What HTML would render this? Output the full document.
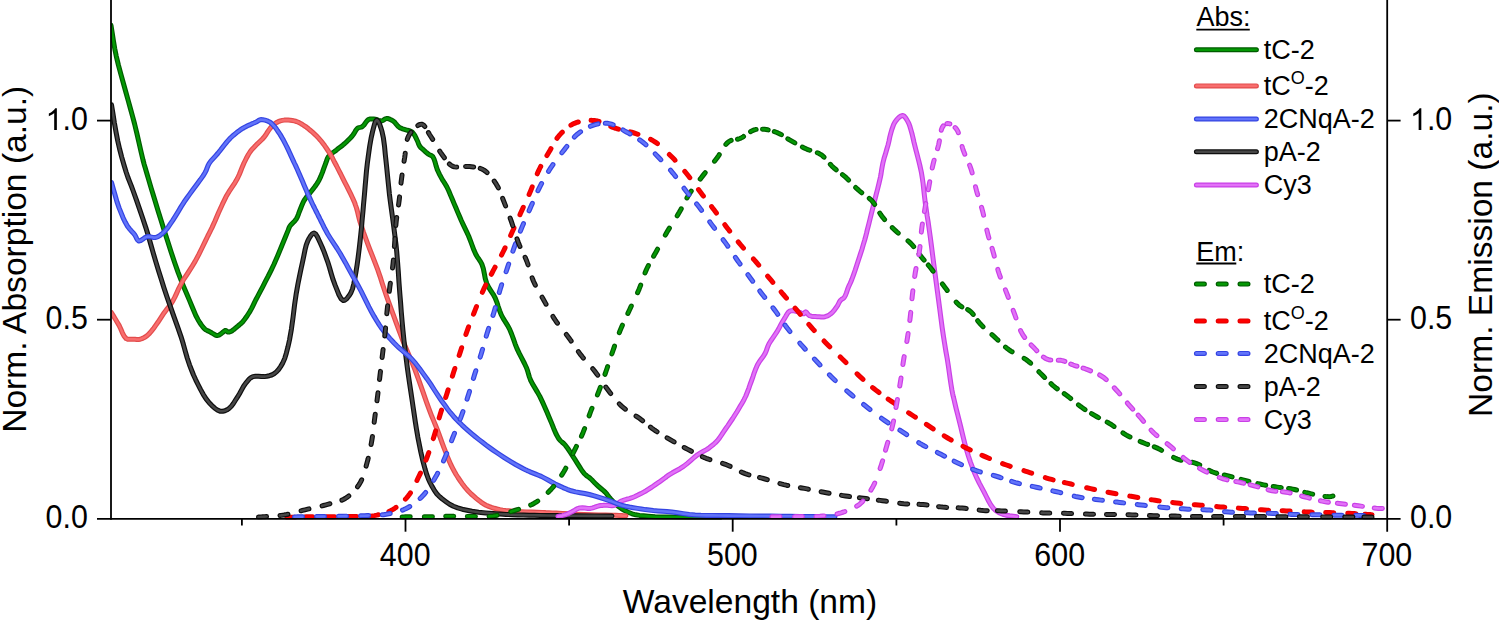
<!DOCTYPE html>
<html><head><meta charset="utf-8"><style>
html,body{margin:0;padding:0;background:#fff;overflow:hidden;}
svg{display:block;}
text{font-family:"Liberation Sans",sans-serif;fill:#000;}
</style></head><body>
<svg width="1499" height="621" viewBox="0 0 1499 621">
<rect width="1499" height="621" fill="#fff"/>
<defs><clipPath id="pc"><rect x="111" y="0" width="1276.2" height="519.5"/></clipPath></defs>
<g fill="none" stroke-linejoin="round" stroke-linecap="round" clip-path="url(#pc)">
<polyline points="111.0,25.3 112.2,33.0 113.4,40.7 114.7,48.4 116.3,56.3 118.5,65.4 121.0,74.7 123.6,84.0 126.1,93.0 128.3,100.9 130.4,108.5 132.5,116.1 134.6,124.0 136.8,133.2 139.0,142.8 141.1,152.0 143.0,160.0 144.1,164.2 145.2,167.8 146.2,171.3 147.3,175.0 148.6,179.4 149.9,183.9 151.3,188.6 152.9,193.8 155.4,202.0 158.2,211.2 161.2,220.8 164.2,230.4 167.6,241.0 171.1,252.0 174.7,262.7 178.2,272.7 181.1,280.2 183.9,287.3 186.8,294.0 189.5,300.4 191.7,305.7 193.8,310.8 195.8,315.5 198.0,319.7 199.7,322.5 201.4,325.0 203.1,327.2 204.8,329.0 206.0,329.9 207.3,330.6 208.5,331.1 209.7,331.7 210.7,332.3 211.6,332.8 212.6,333.4 213.5,333.9 214.3,334.4 215.1,334.9 215.9,335.3 216.7,335.5 217.4,335.5 218.0,335.4 218.7,335.2 219.3,334.9 220.1,334.4 220.9,333.9 221.7,333.2 222.5,332.6 223.2,332.0 224.0,331.2 224.7,330.7 225.4,330.4 226.1,330.6 226.8,331.2 227.5,331.8 228.3,332.1 229.2,332.0 230.2,331.7 231.3,331.2 232.2,330.7 233.0,330.1 233.8,329.5 234.6,328.8 235.4,328.1 236.2,327.5 237.0,326.8 237.8,326.2 238.6,325.5 239.6,324.6 240.7,323.7 241.9,322.7 243.0,321.5 244.7,319.3 246.5,316.8 248.3,314.0 250.0,311.3 251.5,308.6 252.9,305.8 254.3,302.9 255.7,300.0 257.4,296.9 259.1,293.7 260.8,290.4 262.7,286.8 265.3,281.7 268.2,276.2 271.1,270.3 274.0,264.2 277.8,255.5 281.8,245.8 285.5,236.8 288.1,230.4 288.6,229.0 289.0,228.0 289.4,227.0 290.0,226.0 291.3,224.4 293.0,222.7 294.8,220.9 296.3,219.0 297.4,216.9 298.3,214.6 299.1,212.3 300.0,210.0 301.0,207.5 302.0,204.9 303.1,202.4 304.4,200.0 305.9,197.9 307.5,195.9 309.2,193.9 310.9,191.8 312.9,189.2 315.0,186.5 317.0,183.6 318.9,180.5 320.7,176.6 322.4,172.3 323.9,168.1 325.3,164.4 326.1,162.2 326.8,160.1 327.5,158.2 328.6,156.4 330.3,154.6 332.3,153.0 334.5,151.5 336.6,149.9 338.6,148.3 340.7,146.8 342.7,145.2 344.7,143.5 346.8,141.6 348.9,139.5 350.9,137.5 352.7,135.4 354.0,133.5 355.2,131.4 356.3,129.6 357.6,128.2 358.7,127.6 360.0,127.4 361.2,127.1 362.4,126.6 364.0,125.0 365.5,122.8 367.1,120.7 368.8,119.3 370.3,118.9 372.0,118.9 373.7,119.1 375.3,119.3 376.9,119.7 378.6,120.3 380.2,120.8 381.7,120.9 382.9,120.5 384.1,119.7 385.3,118.9 386.5,118.5 388.1,118.6 389.7,119.2 391.4,120.0 393.0,120.9 394.7,122.3 396.2,124.2 397.7,126.0 399.4,127.4 401.0,128.2 402.6,128.8 404.3,129.3 405.9,129.8 407.6,130.3 409.2,130.7 410.9,131.3 412.3,132.2 413.7,133.8 415.0,135.9 416.1,138.2 417.1,140.3 417.9,142.0 418.5,143.7 419.2,145.3 420.0,146.7 420.7,147.5 421.5,148.2 422.3,148.8 423.1,149.5 424.3,150.6 425.6,151.8 427.0,153.0 428.3,154.1 429.5,154.7 430.6,155.2 431.8,155.8 432.8,156.7 434.1,159.2 435.2,162.6 436.2,166.3 437.3,169.6 438.4,172.0 439.5,174.3 440.6,176.4 441.8,178.6 443.0,180.7 444.3,182.6 445.6,184.7 446.9,187.0 448.7,190.8 450.5,195.1 452.4,199.5 454.2,203.9 456.0,208.1 457.8,212.4 459.6,216.6 461.4,220.8 463.2,224.6 465.0,228.4 466.8,232.1 468.6,236.0 470.4,240.6 472.2,245.5 474.0,250.3 475.9,254.5 477.4,257.1 479.0,259.3 480.5,261.6 481.9,264.2 483.3,268.6 484.3,273.6 485.3,278.8 486.8,283.5 488.7,287.3 490.9,290.8 493.2,294.3 495.2,298.0 496.8,302.1 498.2,306.5 499.7,310.8 501.3,314.9 503.3,318.6 505.5,322.1 507.7,325.6 509.7,329.4 511.6,334.0 513.4,338.9 515.1,343.8 517.0,348.7 519.4,353.7 522.0,358.6 524.5,363.5 526.6,368.0 527.7,371.1 528.5,374.1 529.4,377.0 530.5,380.0 532.5,383.9 534.9,387.9 537.4,392.1 539.8,396.4 542.2,401.4 544.6,406.7 546.9,412.1 549.2,417.4 551.5,422.9 553.8,428.7 556.1,434.0 558.5,438.4 560.2,440.5 561.9,442.0 563.7,443.5 565.5,445.4 567.8,448.5 570.2,452.1 572.6,455.8 574.9,459.4 577.2,463.1 579.6,466.9 581.9,470.5 584.2,473.5 585.8,475.0 587.3,476.2 588.9,477.3 590.4,478.5 592.0,480.0 593.5,481.6 595.1,483.3 596.8,484.9 598.9,486.8 601.2,488.7 603.5,490.6 605.4,492.4 606.6,493.7 607.5,495.0 608.5,496.3 609.6,497.7 611.4,499.8 613.5,502.0 615.7,504.2 618.2,506.3 621.3,508.5 624.7,510.5 628.3,512.3 632.0,513.8 635.7,514.8 639.5,515.4 643.6,515.8 648.0,516.2 655.1,516.7 663.1,517.0 671.5,517.1 680.0,517.3 689.7,517.5 699.7,517.6 709.9,517.7 720.0,517.8" stroke="#005C00" stroke-width="5.0"/><polyline points="111.0,25.3 112.2,33.0 113.4,40.7 114.7,48.4 116.3,56.3 118.5,65.4 121.0,74.7 123.6,84.0 126.1,93.0 128.3,100.9 130.4,108.5 132.5,116.1 134.6,124.0 136.8,133.2 139.0,142.8 141.1,152.0 143.0,160.0 144.1,164.2 145.2,167.8 146.2,171.3 147.3,175.0 148.6,179.4 149.9,183.9 151.3,188.6 152.9,193.8 155.4,202.0 158.2,211.2 161.2,220.8 164.2,230.4 167.6,241.0 171.1,252.0 174.7,262.7 178.2,272.7 181.1,280.2 183.9,287.3 186.8,294.0 189.5,300.4 191.7,305.7 193.8,310.8 195.8,315.5 198.0,319.7 199.7,322.5 201.4,325.0 203.1,327.2 204.8,329.0 206.0,329.9 207.3,330.6 208.5,331.1 209.7,331.7 210.7,332.3 211.6,332.8 212.6,333.4 213.5,333.9 214.3,334.4 215.1,334.9 215.9,335.3 216.7,335.5 217.4,335.5 218.0,335.4 218.7,335.2 219.3,334.9 220.1,334.4 220.9,333.9 221.7,333.2 222.5,332.6 223.2,332.0 224.0,331.2 224.7,330.7 225.4,330.4 226.1,330.6 226.8,331.2 227.5,331.8 228.3,332.1 229.2,332.0 230.2,331.7 231.3,331.2 232.2,330.7 233.0,330.1 233.8,329.5 234.6,328.8 235.4,328.1 236.2,327.5 237.0,326.8 237.8,326.2 238.6,325.5 239.6,324.6 240.7,323.7 241.9,322.7 243.0,321.5 244.7,319.3 246.5,316.8 248.3,314.0 250.0,311.3 251.5,308.6 252.9,305.8 254.3,302.9 255.7,300.0 257.4,296.9 259.1,293.7 260.8,290.4 262.7,286.8 265.3,281.7 268.2,276.2 271.1,270.3 274.0,264.2 277.8,255.5 281.8,245.8 285.5,236.8 288.1,230.4 288.6,229.0 289.0,228.0 289.4,227.0 290.0,226.0 291.3,224.4 293.0,222.7 294.8,220.9 296.3,219.0 297.4,216.9 298.3,214.6 299.1,212.3 300.0,210.0 301.0,207.5 302.0,204.9 303.1,202.4 304.4,200.0 305.9,197.9 307.5,195.9 309.2,193.9 310.9,191.8 312.9,189.2 315.0,186.5 317.0,183.6 318.9,180.5 320.7,176.6 322.4,172.3 323.9,168.1 325.3,164.4 326.1,162.2 326.8,160.1 327.5,158.2 328.6,156.4 330.3,154.6 332.3,153.0 334.5,151.5 336.6,149.9 338.6,148.3 340.7,146.8 342.7,145.2 344.7,143.5 346.8,141.6 348.9,139.5 350.9,137.5 352.7,135.4 354.0,133.5 355.2,131.4 356.3,129.6 357.6,128.2 358.7,127.6 360.0,127.4 361.2,127.1 362.4,126.6 364.0,125.0 365.5,122.8 367.1,120.7 368.8,119.3 370.3,118.9 372.0,118.9 373.7,119.1 375.3,119.3 376.9,119.7 378.6,120.3 380.2,120.8 381.7,120.9 382.9,120.5 384.1,119.7 385.3,118.9 386.5,118.5 388.1,118.6 389.7,119.2 391.4,120.0 393.0,120.9 394.7,122.3 396.2,124.2 397.7,126.0 399.4,127.4 401.0,128.2 402.6,128.8 404.3,129.3 405.9,129.8 407.6,130.3 409.2,130.7 410.9,131.3 412.3,132.2 413.7,133.8 415.0,135.9 416.1,138.2 417.1,140.3 417.9,142.0 418.5,143.7 419.2,145.3 420.0,146.7 420.7,147.5 421.5,148.2 422.3,148.8 423.1,149.5 424.3,150.6 425.6,151.8 427.0,153.0 428.3,154.1 429.5,154.7 430.6,155.2 431.8,155.8 432.8,156.7 434.1,159.2 435.2,162.6 436.2,166.3 437.3,169.6 438.4,172.0 439.5,174.3 440.6,176.4 441.8,178.6 443.0,180.7 444.3,182.6 445.6,184.7 446.9,187.0 448.7,190.8 450.5,195.1 452.4,199.5 454.2,203.9 456.0,208.1 457.8,212.4 459.6,216.6 461.4,220.8 463.2,224.6 465.0,228.4 466.8,232.1 468.6,236.0 470.4,240.6 472.2,245.5 474.0,250.3 475.9,254.5 477.4,257.1 479.0,259.3 480.5,261.6 481.9,264.2 483.3,268.6 484.3,273.6 485.3,278.8 486.8,283.5 488.7,287.3 490.9,290.8 493.2,294.3 495.2,298.0 496.8,302.1 498.2,306.5 499.7,310.8 501.3,314.9 503.3,318.6 505.5,322.1 507.7,325.6 509.7,329.4 511.6,334.0 513.4,338.9 515.1,343.8 517.0,348.7 519.4,353.7 522.0,358.6 524.5,363.5 526.6,368.0 527.7,371.1 528.5,374.1 529.4,377.0 530.5,380.0 532.5,383.9 534.9,387.9 537.4,392.1 539.8,396.4 542.2,401.4 544.6,406.7 546.9,412.1 549.2,417.4 551.5,422.9 553.8,428.7 556.1,434.0 558.5,438.4 560.2,440.5 561.9,442.0 563.7,443.5 565.5,445.4 567.8,448.5 570.2,452.1 572.6,455.8 574.9,459.4 577.2,463.1 579.6,466.9 581.9,470.5 584.2,473.5 585.8,475.0 587.3,476.2 588.9,477.3 590.4,478.5 592.0,480.0 593.5,481.6 595.1,483.3 596.8,484.9 598.9,486.8 601.2,488.7 603.5,490.6 605.4,492.4 606.6,493.7 607.5,495.0 608.5,496.3 609.6,497.7 611.4,499.8 613.5,502.0 615.7,504.2 618.2,506.3 621.3,508.5 624.7,510.5 628.3,512.3 632.0,513.8 635.7,514.8 639.5,515.4 643.6,515.8 648.0,516.2 655.1,516.7 663.1,517.0 671.5,517.1 680.0,517.3 689.7,517.5 699.7,517.6 709.9,517.7 720.0,517.8" stroke="#049804" stroke-width="2.6"/>
<polyline points="111.5,312.7 113.4,315.9 115.3,319.0 117.2,322.2 119.1,325.4 120.8,329.0 122.4,332.8 124.1,336.2 126.1,338.5 127.7,339.2 129.5,339.3 131.4,339.2 133.2,339.2 135.0,339.3 136.7,339.5 138.5,339.5 140.2,339.2 142.0,338.6 143.8,337.8 145.6,336.8 147.3,335.5 149.5,333.4 151.6,330.9 153.7,328.2 155.7,325.4 157.9,322.3 160.0,319.1 162.1,315.9 164.2,312.7 166.3,309.9 168.5,307.2 170.6,304.4 172.6,301.4 174.7,297.4 176.7,293.1 178.7,288.6 181.0,284.0 184.2,278.6 187.9,273.0 191.6,267.2 195.1,261.4 198.6,254.9 202.0,248.0 205.2,241.4 207.8,236.0 209.0,233.7 209.9,231.9 210.8,230.0 212.0,227.6 215.0,221.0 218.5,212.8 222.4,204.2 226.1,196.6 229.0,191.7 232.0,187.2 234.9,182.8 237.4,178.5 239.3,174.5 240.9,170.5 242.4,166.7 244.0,163.0 245.5,160.0 246.9,157.2 248.4,154.5 250.0,152.0 251.4,150.1 252.9,148.4 254.5,146.8 256.1,145.1 258.0,143.2 260.1,141.2 262.2,139.2 264.2,137.0 266.2,134.2 268.1,131.2 270.1,128.3 272.2,125.8 274.1,124.2 276.1,122.8 278.2,121.7 280.3,120.9 282.3,120.4 284.3,120.1 286.3,120.1 288.3,120.1 290.3,120.2 292.4,120.5 294.4,120.9 296.4,121.5 298.4,122.3 300.5,123.4 302.4,124.5 304.4,125.8 306.5,127.2 308.5,128.8 310.5,130.5 312.5,132.2 314.6,134.1 316.6,136.0 318.6,138.1 320.5,140.3 322.6,142.9 324.6,145.6 326.6,148.5 328.6,151.5 330.7,154.9 332.7,158.5 334.6,162.3 336.6,166.0 338.6,170.0 340.7,174.0 342.7,178.1 344.7,182.1 346.8,186.2 348.9,190.4 350.9,194.4 352.7,198.2 353.8,200.8 354.8,203.1 355.6,205.5 356.5,208.0 357.4,211.2 358.2,214.7 359.1,218.3 360.1,222.0 361.7,226.9 363.4,232.1 365.4,237.5 367.4,243.0 369.9,249.6 372.6,256.4 375.3,263.4 377.9,270.2 380.1,276.6 382.1,282.9 384.1,289.1 386.2,295.3 388.3,301.1 390.4,306.9 392.5,312.6 394.6,318.3 396.6,323.9 398.7,329.5 400.8,335.2 403.0,341.0 405.8,347.8 408.8,354.8 411.9,362.1 415.0,369.8 418.8,380.1 422.7,391.2 426.5,402.1 429.9,411.4 431.8,416.3 433.6,420.6 435.3,424.7 437.0,429.0 438.8,433.7 440.5,438.4 442.2,443.1 444.0,447.8 445.7,452.2 447.4,456.7 449.2,460.9 451.0,465.0 452.7,468.3 454.4,471.5 456.1,474.5 458.0,477.5 460.0,480.5 462.0,483.4 464.2,486.3 466.4,489.0 468.7,491.5 471.2,494.0 473.7,496.2 476.2,498.4 478.6,500.3 481.0,502.1 483.4,503.8 486.0,505.2 488.7,506.4 491.5,507.4 494.3,508.3 497.2,509.0 500.0,509.6 502.7,510.1 505.5,510.5 508.4,510.8 511.4,511.1 514.4,511.3 517.6,511.5 521.0,511.7 526.0,511.9 531.4,512.1 536.9,512.2 542.0,512.4 545.6,512.6 548.9,512.7 552.2,512.9 556.0,513.1 562.3,513.4 569.4,513.8 576.8,514.2 584.0,514.5 591.2,514.7 598.6,514.9 605.7,515.0 612.0,515.2 615.8,515.3 619.3,515.4 622.6,515.6 626.0,515.7" stroke="#E24C4C" stroke-width="5.0"/><polyline points="111.5,312.7 113.4,315.9 115.3,319.0 117.2,322.2 119.1,325.4 120.8,329.0 122.4,332.8 124.1,336.2 126.1,338.5 127.7,339.2 129.5,339.3 131.4,339.2 133.2,339.2 135.0,339.3 136.7,339.5 138.5,339.5 140.2,339.2 142.0,338.6 143.8,337.8 145.6,336.8 147.3,335.5 149.5,333.4 151.6,330.9 153.7,328.2 155.7,325.4 157.9,322.3 160.0,319.1 162.1,315.9 164.2,312.7 166.3,309.9 168.5,307.2 170.6,304.4 172.6,301.4 174.7,297.4 176.7,293.1 178.7,288.6 181.0,284.0 184.2,278.6 187.9,273.0 191.6,267.2 195.1,261.4 198.6,254.9 202.0,248.0 205.2,241.4 207.8,236.0 209.0,233.7 209.9,231.9 210.8,230.0 212.0,227.6 215.0,221.0 218.5,212.8 222.4,204.2 226.1,196.6 229.0,191.7 232.0,187.2 234.9,182.8 237.4,178.5 239.3,174.5 240.9,170.5 242.4,166.7 244.0,163.0 245.5,160.0 246.9,157.2 248.4,154.5 250.0,152.0 251.4,150.1 252.9,148.4 254.5,146.8 256.1,145.1 258.0,143.2 260.1,141.2 262.2,139.2 264.2,137.0 266.2,134.2 268.1,131.2 270.1,128.3 272.2,125.8 274.1,124.2 276.1,122.8 278.2,121.7 280.3,120.9 282.3,120.4 284.3,120.1 286.3,120.1 288.3,120.1 290.3,120.2 292.4,120.5 294.4,120.9 296.4,121.5 298.4,122.3 300.5,123.4 302.4,124.5 304.4,125.8 306.5,127.2 308.5,128.8 310.5,130.5 312.5,132.2 314.6,134.1 316.6,136.0 318.6,138.1 320.5,140.3 322.6,142.9 324.6,145.6 326.6,148.5 328.6,151.5 330.7,154.9 332.7,158.5 334.6,162.3 336.6,166.0 338.6,170.0 340.7,174.0 342.7,178.1 344.7,182.1 346.8,186.2 348.9,190.4 350.9,194.4 352.7,198.2 353.8,200.8 354.8,203.1 355.6,205.5 356.5,208.0 357.4,211.2 358.2,214.7 359.1,218.3 360.1,222.0 361.7,226.9 363.4,232.1 365.4,237.5 367.4,243.0 369.9,249.6 372.6,256.4 375.3,263.4 377.9,270.2 380.1,276.6 382.1,282.9 384.1,289.1 386.2,295.3 388.3,301.1 390.4,306.9 392.5,312.6 394.6,318.3 396.6,323.9 398.7,329.5 400.8,335.2 403.0,341.0 405.8,347.8 408.8,354.8 411.9,362.1 415.0,369.8 418.8,380.1 422.7,391.2 426.5,402.1 429.9,411.4 431.8,416.3 433.6,420.6 435.3,424.7 437.0,429.0 438.8,433.7 440.5,438.4 442.2,443.1 444.0,447.8 445.7,452.2 447.4,456.7 449.2,460.9 451.0,465.0 452.7,468.3 454.4,471.5 456.1,474.5 458.0,477.5 460.0,480.5 462.0,483.4 464.2,486.3 466.4,489.0 468.7,491.5 471.2,494.0 473.7,496.2 476.2,498.4 478.6,500.3 481.0,502.1 483.4,503.8 486.0,505.2 488.7,506.4 491.5,507.4 494.3,508.3 497.2,509.0 500.0,509.6 502.7,510.1 505.5,510.5 508.4,510.8 511.4,511.1 514.4,511.3 517.6,511.5 521.0,511.7 526.0,511.9 531.4,512.1 536.9,512.2 542.0,512.4 545.6,512.6 548.9,512.7 552.2,512.9 556.0,513.1 562.3,513.4 569.4,513.8 576.8,514.2 584.0,514.5 591.2,514.7 598.6,514.9 605.7,515.0 612.0,515.2 615.8,515.3 619.3,515.4 622.6,515.6 626.0,515.7" stroke="#F86E6E" stroke-width="2.6"/>
<polyline points="111.5,104.8 113.0,113.9 114.4,123.0 116.0,132.0 117.7,140.8 119.6,149.0 121.7,157.1 123.9,164.8 126.1,172.0 127.8,177.0 129.5,181.4 131.3,185.9 133.2,191.0 136.2,199.3 139.4,208.6 142.7,218.3 145.8,227.6 148.4,236.1 150.8,244.5 153.2,252.9 155.7,261.4 158.4,270.2 161.2,279.0 164.0,288.0 167.0,297.0 170.5,306.9 174.1,317.1 177.7,327.1 181.0,336.6 183.3,344.1 185.3,351.3 187.3,358.2 189.5,364.8 191.5,370.0 193.5,375.0 195.7,379.8 198.0,384.5 200.5,389.4 203.2,394.3 206.1,398.9 209.2,402.8 211.9,405.6 214.8,408.2 217.7,410.2 220.5,411.3 222.7,411.3 224.9,410.8 227.0,409.8 229.0,408.5 231.3,406.3 233.4,403.5 235.4,400.3 237.4,397.2 239.5,393.7 241.6,389.9 243.6,386.2 245.8,383.1 247.5,381.1 249.1,379.2 250.9,377.7 252.9,376.6 255.5,376.2 258.4,376.3 261.4,376.6 264.2,376.6 266.8,376.2 269.3,375.7 271.7,375.0 274.0,373.8 276.4,371.9 278.6,369.5 280.6,366.6 282.5,363.4 284.7,358.5 286.4,352.9 288.0,346.7 289.5,340.0 291.4,329.2 293.1,317.0 294.6,304.6 296.3,293.2 297.8,284.7 299.4,276.7 301.0,269.0 302.6,261.8 303.8,256.0 304.9,250.4 306.2,245.2 307.8,240.9 309.2,238.2 310.8,235.6 312.5,233.7 314.1,233.0 315.7,234.1 317.3,236.6 318.8,239.8 320.3,243.0 322.2,247.2 324.1,251.9 325.9,256.8 327.7,261.8 329.5,267.5 331.2,273.5 333.0,279.4 335.0,284.9 336.9,289.7 338.9,294.7 341.1,298.7 343.3,300.5 345.2,300.0 347.1,298.3 349.0,295.8 350.7,293.2 352.5,288.9 353.8,283.8 354.9,278.1 355.9,272.3 357.1,264.8 358.2,256.8 359.2,248.7 360.1,240.9 360.8,234.2 361.5,227.6 362.0,221.2 362.6,215.0 363.1,209.7 363.5,204.7 364.0,199.6 364.5,194.1 365.1,186.7 365.8,178.8 366.5,170.8 367.4,162.8 368.5,154.6 369.7,146.1 371.1,138.1 372.6,131.4 373.6,127.6 374.6,123.9 375.7,121.1 376.8,120.0 378.1,121.1 379.5,123.8 380.8,127.6 382.0,131.4 383.4,138.1 384.5,146.1 385.3,154.6 386.2,162.8 387.0,170.6 387.8,178.5 388.6,186.3 389.4,194.1 390.4,202.0 391.5,210.0 392.6,217.9 393.6,225.5 394.4,232.0 395.2,238.2 396.0,244.5 396.7,251.4 397.5,261.2 398.3,271.8 399.0,282.7 399.8,293.2 400.6,302.8 401.3,312.1 402.1,321.5 403.0,330.9 404.0,340.7 405.2,350.6 406.4,360.4 407.6,369.8 408.7,377.5 409.8,384.9 410.9,392.2 412.0,399.5 413.1,407.0 414.2,414.4 415.3,421.9 416.5,429.3 417.8,436.9 419.3,444.5 420.8,452.0 422.4,459.0 423.8,464.4 425.2,469.6 426.7,474.4 428.4,479.0 430.1,482.7 432.0,486.3 433.9,489.6 435.7,492.3 436.7,493.7 437.7,494.8 438.7,495.8 440.0,497.0 442.7,499.3 446.0,501.7 449.6,504.2 453.4,506.2 457.7,507.9 462.2,509.2 467.0,510.2 472.0,511.2 478.6,512.2 485.8,512.9 493.0,513.5 500.0,514.0 506.0,514.4 511.9,514.7 517.7,514.9 523.5,515.1 529.1,515.3 534.4,515.3 540.2,515.4 546.8,515.5 560.8,515.6 577.3,515.8 594.9,515.9 612.0,516.0" stroke="#0E0E0E" stroke-width="5.0"/><polyline points="111.5,104.8 113.0,113.9 114.4,123.0 116.0,132.0 117.7,140.8 119.6,149.0 121.7,157.1 123.9,164.8 126.1,172.0 127.8,177.0 129.5,181.4 131.3,185.9 133.2,191.0 136.2,199.3 139.4,208.6 142.7,218.3 145.8,227.6 148.4,236.1 150.8,244.5 153.2,252.9 155.7,261.4 158.4,270.2 161.2,279.0 164.0,288.0 167.0,297.0 170.5,306.9 174.1,317.1 177.7,327.1 181.0,336.6 183.3,344.1 185.3,351.3 187.3,358.2 189.5,364.8 191.5,370.0 193.5,375.0 195.7,379.8 198.0,384.5 200.5,389.4 203.2,394.3 206.1,398.9 209.2,402.8 211.9,405.6 214.8,408.2 217.7,410.2 220.5,411.3 222.7,411.3 224.9,410.8 227.0,409.8 229.0,408.5 231.3,406.3 233.4,403.5 235.4,400.3 237.4,397.2 239.5,393.7 241.6,389.9 243.6,386.2 245.8,383.1 247.5,381.1 249.1,379.2 250.9,377.7 252.9,376.6 255.5,376.2 258.4,376.3 261.4,376.6 264.2,376.6 266.8,376.2 269.3,375.7 271.7,375.0 274.0,373.8 276.4,371.9 278.6,369.5 280.6,366.6 282.5,363.4 284.7,358.5 286.4,352.9 288.0,346.7 289.5,340.0 291.4,329.2 293.1,317.0 294.6,304.6 296.3,293.2 297.8,284.7 299.4,276.7 301.0,269.0 302.6,261.8 303.8,256.0 304.9,250.4 306.2,245.2 307.8,240.9 309.2,238.2 310.8,235.6 312.5,233.7 314.1,233.0 315.7,234.1 317.3,236.6 318.8,239.8 320.3,243.0 322.2,247.2 324.1,251.9 325.9,256.8 327.7,261.8 329.5,267.5 331.2,273.5 333.0,279.4 335.0,284.9 336.9,289.7 338.9,294.7 341.1,298.7 343.3,300.5 345.2,300.0 347.1,298.3 349.0,295.8 350.7,293.2 352.5,288.9 353.8,283.8 354.9,278.1 355.9,272.3 357.1,264.8 358.2,256.8 359.2,248.7 360.1,240.9 360.8,234.2 361.5,227.6 362.0,221.2 362.6,215.0 363.1,209.7 363.5,204.7 364.0,199.6 364.5,194.1 365.1,186.7 365.8,178.8 366.5,170.8 367.4,162.8 368.5,154.6 369.7,146.1 371.1,138.1 372.6,131.4 373.6,127.6 374.6,123.9 375.7,121.1 376.8,120.0 378.1,121.1 379.5,123.8 380.8,127.6 382.0,131.4 383.4,138.1 384.5,146.1 385.3,154.6 386.2,162.8 387.0,170.6 387.8,178.5 388.6,186.3 389.4,194.1 390.4,202.0 391.5,210.0 392.6,217.9 393.6,225.5 394.4,232.0 395.2,238.2 396.0,244.5 396.7,251.4 397.5,261.2 398.3,271.8 399.0,282.7 399.8,293.2 400.6,302.8 401.3,312.1 402.1,321.5 403.0,330.9 404.0,340.7 405.2,350.6 406.4,360.4 407.6,369.8 408.7,377.5 409.8,384.9 410.9,392.2 412.0,399.5 413.1,407.0 414.2,414.4 415.3,421.9 416.5,429.3 417.8,436.9 419.3,444.5 420.8,452.0 422.4,459.0 423.8,464.4 425.2,469.6 426.7,474.4 428.4,479.0 430.1,482.7 432.0,486.3 433.9,489.6 435.7,492.3 436.7,493.7 437.7,494.8 438.7,495.8 440.0,497.0 442.7,499.3 446.0,501.7 449.6,504.2 453.4,506.2 457.7,507.9 462.2,509.2 467.0,510.2 472.0,511.2 478.6,512.2 485.8,512.9 493.0,513.5 500.0,514.0 506.0,514.4 511.9,514.7 517.7,514.9 523.5,515.1 529.1,515.3 534.4,515.3 540.2,515.4 546.8,515.5 560.8,515.6 577.3,515.8 594.9,515.9 612.0,516.0" stroke="#464646" stroke-width="2.6"/>
<polyline points="558.0,516.5 560.0,516.0 562.1,515.6 564.1,515.1 566.0,514.5 567.6,513.9 569.0,513.2 570.5,512.5 572.0,511.8 573.8,510.8 575.7,509.6 577.7,508.6 579.8,507.9 582.3,507.8 585.1,508.1 587.8,508.4 590.4,508.4 592.7,507.9 594.8,507.2 597.0,506.4 599.0,505.8 600.6,505.5 602.2,505.4 603.8,505.3 605.4,505.2 607.5,505.3 609.6,505.6 611.8,505.7 613.9,505.5 615.8,504.7 617.6,503.5 619.4,502.1 621.4,501.0 623.9,500.1 626.5,499.3 629.3,498.6 632.0,497.7 634.9,496.5 637.9,495.1 640.9,493.6 643.7,492.1 646.2,490.7 648.6,489.2 651.0,487.6 653.4,486.0 656.1,484.1 659.0,482.2 661.7,480.2 664.1,478.5 665.5,477.5 666.7,476.5 667.9,475.6 669.4,474.6 672.4,472.8 676.1,470.8 679.9,468.7 683.5,466.4 687.1,463.6 690.6,460.6 694.1,457.5 697.5,454.8 700.5,452.9 703.5,451.2 706.5,449.6 709.2,447.8 711.4,446.1 713.4,444.5 715.4,442.7 717.3,440.7 719.4,438.1 721.4,435.2 723.4,432.1 725.5,429.0 727.9,425.6 730.3,422.0 732.7,418.5 734.9,415.0 736.8,412.0 738.6,409.0 740.3,406.1 741.9,403.4 743.0,401.5 743.9,399.8 744.8,398.0 745.8,396.0 747.2,392.5 748.7,388.6 750.1,384.5 751.6,380.5 753.0,376.6 754.3,372.6 755.8,368.7 757.4,365.0 759.2,361.9 761.3,359.0 763.4,356.2 765.1,353.4 766.2,351.0 767.0,348.6 767.9,346.2 769.0,343.8 770.7,341.0 772.7,338.1 774.7,335.2 776.7,332.2 778.7,328.8 780.6,325.2 782.5,321.7 784.4,318.6 785.8,316.3 787.1,314.0 788.5,312.1 790.2,310.9 792.0,310.6 794.0,310.9 796.1,311.4 798.0,311.9 799.6,312.4 801.2,313.1 802.6,313.7 803.8,313.8 804.4,313.4 804.8,312.8 805.2,312.2 805.7,311.9 806.5,312.4 807.4,313.5 808.4,314.8 809.6,315.7 811.3,316.2 813.2,316.5 815.3,316.6 817.3,316.7 819.3,316.8 821.2,317.0 823.2,317.0 825.0,316.7 826.6,316.2 828.0,315.6 829.4,314.8 830.8,313.8 832.4,312.4 833.9,310.7 835.3,308.8 836.6,307.0 837.7,305.3 838.6,303.5 839.5,301.7 840.5,300.3 841.4,299.5 842.4,298.9 843.4,298.3 844.3,297.4 845.4,295.4 846.4,292.9 847.3,290.2 848.2,287.7 849.1,285.6 850.1,283.5 851.0,281.4 852.0,279.0 853.6,274.6 855.3,269.7 857.0,264.4 858.7,259.3 860.3,254.4 861.9,249.5 863.3,244.6 864.7,240.0 865.7,236.3 866.6,232.9 867.4,229.4 868.4,225.6 869.8,220.0 871.3,213.9 872.9,207.6 874.4,201.4 876.0,195.2 877.6,189.0 879.1,182.9 880.4,177.3 881.1,173.5 881.6,170.0 882.2,166.6 882.9,163.0 884.0,158.6 885.4,154.1 886.7,149.5 888.0,145.1 889.0,141.0 889.8,137.0 890.8,133.1 891.8,129.6 892.7,127.1 893.6,124.7 894.7,122.5 896.0,120.6 897.5,118.8 899.3,117.1 901.1,115.9 902.8,115.5 904.3,116.3 905.6,117.9 906.9,119.9 908.0,121.9 909.0,123.9 909.8,126.1 910.5,128.4 911.2,130.9 912.2,134.5 913.1,138.4 914.0,142.4 915.0,146.4 916.0,150.3 917.0,154.1 918.0,158.0 919.0,161.9 919.9,165.6 920.7,169.3 921.5,173.1 922.2,177.3 923.1,183.5 923.8,190.2 924.6,197.2 925.4,203.9 926.3,209.9 927.1,215.7 928.1,221.7 929.0,228.0 930.2,236.5 931.4,245.6 932.6,255.0 933.8,264.2 935.0,273.3 936.2,282.3 937.4,291.4 938.6,300.4 939.8,309.5 941.0,318.8 942.2,327.8 943.5,336.6 944.7,344.1 945.9,351.5 947.2,358.6 948.3,365.6 949.2,372.0 950.1,378.4 951.0,384.5 951.9,390.0 952.6,393.6 953.3,396.7 954.1,399.9 954.9,403.4 956.2,408.8 957.7,414.7 959.2,420.7 960.7,426.7 962.1,432.6 963.5,438.4 965.0,444.3 966.6,450.1 968.4,456.0 970.4,462.0 972.6,467.9 974.8,473.5 977.0,478.4 979.3,483.1 981.7,487.6 984.1,492.1 986.3,496.5 988.6,501.0 990.9,505.1 993.5,508.5 995.6,510.4 997.9,512.0 1000.2,513.2 1002.8,514.3 1006.0,515.2 1009.6,515.8 1013.2,516.2 1016.8,516.7" stroke="#C940E6" stroke-width="5.0"/><polyline points="558.0,516.5 560.0,516.0 562.1,515.6 564.1,515.1 566.0,514.5 567.6,513.9 569.0,513.2 570.5,512.5 572.0,511.8 573.8,510.8 575.7,509.6 577.7,508.6 579.8,507.9 582.3,507.8 585.1,508.1 587.8,508.4 590.4,508.4 592.7,507.9 594.8,507.2 597.0,506.4 599.0,505.8 600.6,505.5 602.2,505.4 603.8,505.3 605.4,505.2 607.5,505.3 609.6,505.6 611.8,505.7 613.9,505.5 615.8,504.7 617.6,503.5 619.4,502.1 621.4,501.0 623.9,500.1 626.5,499.3 629.3,498.6 632.0,497.7 634.9,496.5 637.9,495.1 640.9,493.6 643.7,492.1 646.2,490.7 648.6,489.2 651.0,487.6 653.4,486.0 656.1,484.1 659.0,482.2 661.7,480.2 664.1,478.5 665.5,477.5 666.7,476.5 667.9,475.6 669.4,474.6 672.4,472.8 676.1,470.8 679.9,468.7 683.5,466.4 687.1,463.6 690.6,460.6 694.1,457.5 697.5,454.8 700.5,452.9 703.5,451.2 706.5,449.6 709.2,447.8 711.4,446.1 713.4,444.5 715.4,442.7 717.3,440.7 719.4,438.1 721.4,435.2 723.4,432.1 725.5,429.0 727.9,425.6 730.3,422.0 732.7,418.5 734.9,415.0 736.8,412.0 738.6,409.0 740.3,406.1 741.9,403.4 743.0,401.5 743.9,399.8 744.8,398.0 745.8,396.0 747.2,392.5 748.7,388.6 750.1,384.5 751.6,380.5 753.0,376.6 754.3,372.6 755.8,368.7 757.4,365.0 759.2,361.9 761.3,359.0 763.4,356.2 765.1,353.4 766.2,351.0 767.0,348.6 767.9,346.2 769.0,343.8 770.7,341.0 772.7,338.1 774.7,335.2 776.7,332.2 778.7,328.8 780.6,325.2 782.5,321.7 784.4,318.6 785.8,316.3 787.1,314.0 788.5,312.1 790.2,310.9 792.0,310.6 794.0,310.9 796.1,311.4 798.0,311.9 799.6,312.4 801.2,313.1 802.6,313.7 803.8,313.8 804.4,313.4 804.8,312.8 805.2,312.2 805.7,311.9 806.5,312.4 807.4,313.5 808.4,314.8 809.6,315.7 811.3,316.2 813.2,316.5 815.3,316.6 817.3,316.7 819.3,316.8 821.2,317.0 823.2,317.0 825.0,316.7 826.6,316.2 828.0,315.6 829.4,314.8 830.8,313.8 832.4,312.4 833.9,310.7 835.3,308.8 836.6,307.0 837.7,305.3 838.6,303.5 839.5,301.7 840.5,300.3 841.4,299.5 842.4,298.9 843.4,298.3 844.3,297.4 845.4,295.4 846.4,292.9 847.3,290.2 848.2,287.7 849.1,285.6 850.1,283.5 851.0,281.4 852.0,279.0 853.6,274.6 855.3,269.7 857.0,264.4 858.7,259.3 860.3,254.4 861.9,249.5 863.3,244.6 864.7,240.0 865.7,236.3 866.6,232.9 867.4,229.4 868.4,225.6 869.8,220.0 871.3,213.9 872.9,207.6 874.4,201.4 876.0,195.2 877.6,189.0 879.1,182.9 880.4,177.3 881.1,173.5 881.6,170.0 882.2,166.6 882.9,163.0 884.0,158.6 885.4,154.1 886.7,149.5 888.0,145.1 889.0,141.0 889.8,137.0 890.8,133.1 891.8,129.6 892.7,127.1 893.6,124.7 894.7,122.5 896.0,120.6 897.5,118.8 899.3,117.1 901.1,115.9 902.8,115.5 904.3,116.3 905.6,117.9 906.9,119.9 908.0,121.9 909.0,123.9 909.8,126.1 910.5,128.4 911.2,130.9 912.2,134.5 913.1,138.4 914.0,142.4 915.0,146.4 916.0,150.3 917.0,154.1 918.0,158.0 919.0,161.9 919.9,165.6 920.7,169.3 921.5,173.1 922.2,177.3 923.1,183.5 923.8,190.2 924.6,197.2 925.4,203.9 926.3,209.9 927.1,215.7 928.1,221.7 929.0,228.0 930.2,236.5 931.4,245.6 932.6,255.0 933.8,264.2 935.0,273.3 936.2,282.3 937.4,291.4 938.6,300.4 939.8,309.5 941.0,318.8 942.2,327.8 943.5,336.6 944.7,344.1 945.9,351.5 947.2,358.6 948.3,365.6 949.2,372.0 950.1,378.4 951.0,384.5 951.9,390.0 952.6,393.6 953.3,396.7 954.1,399.9 954.9,403.4 956.2,408.8 957.7,414.7 959.2,420.7 960.7,426.7 962.1,432.6 963.5,438.4 965.0,444.3 966.6,450.1 968.4,456.0 970.4,462.0 972.6,467.9 974.8,473.5 977.0,478.4 979.3,483.1 981.7,487.6 984.1,492.1 986.3,496.5 988.6,501.0 990.9,505.1 993.5,508.5 995.6,510.4 997.9,512.0 1000.2,513.2 1002.8,514.3 1006.0,515.2 1009.6,515.8 1013.2,516.2 1016.8,516.7" stroke="#E272F8" stroke-width="2.6"/>
<polyline points="111.5,182.5 113.3,189.0 115.2,195.5 117.0,201.9 119.1,207.9 121.1,212.9 123.1,217.8 125.3,222.3 127.5,226.2 129.3,228.6 131.1,230.7 133.0,232.7 134.6,234.6 135.7,236.5 136.6,238.4 137.6,240.1 138.8,241.0 140.6,240.6 142.8,239.2 145.0,237.6 147.3,236.6 149.4,236.6 151.5,237.1 153.6,237.6 155.7,237.5 157.9,236.7 160.1,235.3 162.2,233.6 164.2,231.8 166.4,229.4 168.5,226.7 170.5,223.7 172.6,220.6 175.3,216.3 178.2,211.6 181.0,206.9 183.9,202.3 186.7,198.3 189.5,194.4 192.3,190.6 195.1,186.8 197.7,183.2 200.4,179.6 202.9,176.1 205.0,172.7 206.2,170.3 207.1,167.9 208.0,165.7 209.2,163.4 211.0,160.9 213.1,158.6 215.4,156.1 217.7,153.5 220.7,149.8 223.8,145.7 227.1,141.6 230.4,138.0 233.5,135.2 236.7,132.6 239.9,130.2 243.0,128.2 245.3,126.9 247.5,125.8 249.6,124.9 251.5,124.0 252.7,123.4 253.9,123.0 255.0,122.5 256.1,122.0 257.3,121.3 258.4,120.6 259.6,120.0 260.9,119.6 262.8,119.7 265.0,120.1 267.1,120.8 269.0,121.7 270.4,122.5 271.6,123.5 272.7,124.6 273.8,125.8 275.1,127.2 276.3,128.8 277.4,130.5 278.6,132.2 279.9,134.1 281.1,136.1 282.3,138.2 283.5,140.3 284.7,142.6 285.9,145.0 287.1,147.4 288.3,149.9 289.5,152.5 290.7,155.1 291.9,157.8 293.1,160.4 294.3,163.0 295.6,165.6 296.8,168.2 298.0,170.9 299.2,173.7 300.4,176.5 301.6,179.3 302.8,182.1 304.0,184.9 305.2,187.8 306.4,190.6 307.6,193.4 308.7,195.9 309.8,198.2 310.9,200.6 312.0,203.0 313.2,205.5 314.5,208.0 315.7,210.5 317.0,213.0 318.2,215.5 319.5,218.0 320.7,220.5 322.0,223.0 323.3,225.7 324.6,228.3 326.1,231.0 327.7,234.0 330.5,238.5 333.7,243.4 337.1,248.5 340.2,253.5 342.9,258.2 345.6,262.9 348.1,267.6 350.7,272.3 353.3,277.0 355.9,281.6 358.5,286.3 361.1,291.1 363.7,296.3 366.3,301.6 368.9,306.9 371.6,312.0 374.1,316.4 376.7,320.7 379.3,324.9 382.0,328.8 384.6,332.2 387.3,335.5 390.0,338.6 392.5,341.3 394.1,343.0 395.6,344.5 397.1,346.0 398.8,347.6 401.8,350.2 405.1,353.0 408.6,356.0 412.0,359.3 415.8,363.7 419.5,368.5 423.2,373.6 426.9,378.7 430.7,384.2 434.4,390.0 438.1,395.7 441.7,401.0 444.7,405.1 447.5,409.0 450.4,412.7 453.4,416.2 456.2,419.3 459.1,422.2 462.0,425.1 465.0,427.9 468.4,430.9 471.9,433.9 475.4,436.8 479.0,439.6 482.5,442.3 486.0,445.0 489.6,447.6 493.1,450.1 496.6,452.5 500.0,454.8 503.5,457.1 507.1,459.4 511.2,461.9 515.6,464.5 519.8,466.8 523.5,468.8 525.5,469.8 527.2,470.6 528.9,471.3 530.7,472.1 533.2,473.1 535.8,474.1 538.5,475.2 541.3,476.4 544.6,478.1 548.1,480.0 551.6,482.0 555.2,483.9 559.1,485.8 563.0,487.6 567.1,489.3 571.2,490.8 575.6,491.9 580.2,492.7 584.8,493.5 589.4,494.5 594.3,495.8 599.2,497.3 604.1,498.9 608.6,500.4 612.0,501.6 615.1,502.9 618.1,504.1 621.4,505.2 625.3,506.2 629.3,507.0 633.3,507.7 637.4,508.4 641.4,509.0 645.3,509.6 649.3,510.1 653.4,510.6 657.9,511.0 662.4,511.3 667.0,511.6 671.8,512.0 677.4,512.7 683.3,513.6 689.2,514.4 695.1,515.0 700.8,515.3 706.4,515.4 712.2,515.4 718.5,515.5 728.1,515.6 738.6,515.8 749.4,515.9 760.0,516.0 770.1,516.1 780.2,516.2 790.2,516.3 800.0,516.4 808.9,516.5 817.6,516.6 826.3,516.7 835.0,516.8" stroke="#3444E2" stroke-width="5.0"/><polyline points="111.5,182.5 113.3,189.0 115.2,195.5 117.0,201.9 119.1,207.9 121.1,212.9 123.1,217.8 125.3,222.3 127.5,226.2 129.3,228.6 131.1,230.7 133.0,232.7 134.6,234.6 135.7,236.5 136.6,238.4 137.6,240.1 138.8,241.0 140.6,240.6 142.8,239.2 145.0,237.6 147.3,236.6 149.4,236.6 151.5,237.1 153.6,237.6 155.7,237.5 157.9,236.7 160.1,235.3 162.2,233.6 164.2,231.8 166.4,229.4 168.5,226.7 170.5,223.7 172.6,220.6 175.3,216.3 178.2,211.6 181.0,206.9 183.9,202.3 186.7,198.3 189.5,194.4 192.3,190.6 195.1,186.8 197.7,183.2 200.4,179.6 202.9,176.1 205.0,172.7 206.2,170.3 207.1,167.9 208.0,165.7 209.2,163.4 211.0,160.9 213.1,158.6 215.4,156.1 217.7,153.5 220.7,149.8 223.8,145.7 227.1,141.6 230.4,138.0 233.5,135.2 236.7,132.6 239.9,130.2 243.0,128.2 245.3,126.9 247.5,125.8 249.6,124.9 251.5,124.0 252.7,123.4 253.9,123.0 255.0,122.5 256.1,122.0 257.3,121.3 258.4,120.6 259.6,120.0 260.9,119.6 262.8,119.7 265.0,120.1 267.1,120.8 269.0,121.7 270.4,122.5 271.6,123.5 272.7,124.6 273.8,125.8 275.1,127.2 276.3,128.8 277.4,130.5 278.6,132.2 279.9,134.1 281.1,136.1 282.3,138.2 283.5,140.3 284.7,142.6 285.9,145.0 287.1,147.4 288.3,149.9 289.5,152.5 290.7,155.1 291.9,157.8 293.1,160.4 294.3,163.0 295.6,165.6 296.8,168.2 298.0,170.9 299.2,173.7 300.4,176.5 301.6,179.3 302.8,182.1 304.0,184.9 305.2,187.8 306.4,190.6 307.6,193.4 308.7,195.9 309.8,198.2 310.9,200.6 312.0,203.0 313.2,205.5 314.5,208.0 315.7,210.5 317.0,213.0 318.2,215.5 319.5,218.0 320.7,220.5 322.0,223.0 323.3,225.7 324.6,228.3 326.1,231.0 327.7,234.0 330.5,238.5 333.7,243.4 337.1,248.5 340.2,253.5 342.9,258.2 345.6,262.9 348.1,267.6 350.7,272.3 353.3,277.0 355.9,281.6 358.5,286.3 361.1,291.1 363.7,296.3 366.3,301.6 368.9,306.9 371.6,312.0 374.1,316.4 376.7,320.7 379.3,324.9 382.0,328.8 384.6,332.2 387.3,335.5 390.0,338.6 392.5,341.3 394.1,343.0 395.6,344.5 397.1,346.0 398.8,347.6 401.8,350.2 405.1,353.0 408.6,356.0 412.0,359.3 415.8,363.7 419.5,368.5 423.2,373.6 426.9,378.7 430.7,384.2 434.4,390.0 438.1,395.7 441.7,401.0 444.7,405.1 447.5,409.0 450.4,412.7 453.4,416.2 456.2,419.3 459.1,422.2 462.0,425.1 465.0,427.9 468.4,430.9 471.9,433.9 475.4,436.8 479.0,439.6 482.5,442.3 486.0,445.0 489.6,447.6 493.1,450.1 496.6,452.5 500.0,454.8 503.5,457.1 507.1,459.4 511.2,461.9 515.6,464.5 519.8,466.8 523.5,468.8 525.5,469.8 527.2,470.6 528.9,471.3 530.7,472.1 533.2,473.1 535.8,474.1 538.5,475.2 541.3,476.4 544.6,478.1 548.1,480.0 551.6,482.0 555.2,483.9 559.1,485.8 563.0,487.6 567.1,489.3 571.2,490.8 575.6,491.9 580.2,492.7 584.8,493.5 589.4,494.5 594.3,495.8 599.2,497.3 604.1,498.9 608.6,500.4 612.0,501.6 615.1,502.9 618.1,504.1 621.4,505.2 625.3,506.2 629.3,507.0 633.3,507.7 637.4,508.4 641.4,509.0 645.3,509.6 649.3,510.1 653.4,510.6 657.9,511.0 662.4,511.3 667.0,511.6 671.8,512.0 677.4,512.7 683.3,513.6 689.2,514.4 695.1,515.0 700.8,515.3 706.4,515.4 712.2,515.4 718.5,515.5 728.1,515.6 738.6,515.8 749.4,515.9 760.0,516.0 770.1,516.1 780.2,516.2 790.2,516.3 800.0,516.4 808.9,516.5 817.6,516.6 826.3,516.7 835.0,516.8" stroke="#6274FA" stroke-width="2.6"/>
<path d="M402.15,517.00 L402.35,516.98 L403.21,516.93 L404.12,516.88 L405.11,516.84 L406.20,516.80 L408.39,516.76 L410.25,516.75 M424.35,516.82 L425.56,516.82 L428.40,516.80 L431.08,516.75 L432.45,516.71 M445.65,516.28 L447.03,516.24 L449.70,516.20 L452.40,516.19 L453.75,516.20 M467.35,516.39 L468.69,516.40 L471.40,516.40 L474.12,516.41 L475.45,516.44 M489.07,516.38 L490.41,516.29 L493.10,516.00 L495.83,515.57 L497.09,515.32 M510.83,511.70 L512.07,511.32 L514.70,510.50 L517.23,509.72 L518.57,509.32 M530.69,505.03 L532.01,504.42 L534.30,503.20 L536.57,501.81 L537.72,501.03 M548.17,492.29 L549.12,491.35 L551.00,489.40 L552.81,487.39 L553.67,486.35 M561.67,475.14 L562.35,474.07 L563.80,471.70 L565.29,469.13 L565.80,468.18 M572.85,453.75 L573.34,452.72 L574.60,450.10 L575.73,447.82 L576.40,446.47 M581.47,436.11 L582.11,434.68 L583.10,432.40 L584.09,429.94 L584.59,428.63 M589.11,415.80 L589.55,414.57 L590.50,412.00 L591.51,409.39 L591.98,408.23 M597.42,394.87 L597.89,393.71 L598.90,391.10 L599.87,388.53 L600.32,387.31 M604.97,374.32 L605.40,373.08 L606.30,370.50 L607.18,367.94 L607.61,366.67 M611.89,353.83 L612.31,352.57 L613.20,350.00 L614.11,347.36 L614.52,346.17 M619.32,332.67 L619.77,331.48 L620.80,328.90 L621.83,326.45 L622.39,325.17 M627.88,313.37 L628.47,312.13 L629.60,309.70 L630.79,307.14 L631.31,306.03 M637.59,292.62 L638.09,291.49 L639.20,288.90 L640.19,286.41 L640.67,285.13 M645.04,272.94 L645.58,271.55 L646.60,269.20 L647.62,267.05 L648.38,265.56 M653.61,256.23 L654.40,254.84 L655.60,252.70 L656.98,250.18 L657.54,249.15 M665.28,235.11 L665.79,234.20 L667.30,231.60 L668.78,229.13 L669.40,228.14 M677.21,215.77 L677.88,214.68 L679.30,212.30 L680.57,210.05 L681.26,208.76 M686.93,197.98 L687.65,196.70 L689.00,194.50 L690.54,192.15 L691.25,191.13 M700.22,179.11 L700.93,178.19 L702.70,175.90 L704.47,173.63 L705.20,172.71 M714.51,161.20 L715.29,160.21 L717.00,158.00 L718.53,155.84 L719.28,154.65 M725.90,144.42 L727.17,142.98 L728.80,141.60 L730.10,140.85 L731.18,140.45 M737.46,139.27 L738.56,139.01 L740.00,138.50 L741.74,137.62 L743.52,136.52 L743.53,136.51 M750.56,131.66 L750.72,131.56 L752.48,130.59 L754.20,129.90 L755.52,129.54 L756.14,129.42 M762.51,129.13 L763.16,129.17 L764.50,129.30 L766.10,129.50 L767.73,129.79 L768.17,129.88 M774.33,131.58 L774.48,131.63 L776.16,132.24 L777.80,132.90 L779.52,133.70 L781.21,134.61 L781.41,134.73 M787.84,138.79 L787.89,138.82 L789.58,139.89 L791.30,140.90 L793.10,141.92 L794.82,142.90 M802.36,147.02 L804.13,147.91 L806.00,148.80 L807.86,149.57 L809.76,150.24 L809.78,150.25 M817.31,152.74 L817.39,152.77 L819.19,153.60 L820.90,154.60 L822.59,155.87 L824.01,157.18 M830.29,164.29 L831.56,165.68 L833.10,167.20 L834.63,168.53 L836.18,169.79 L836.20,169.81 M842.49,174.61 L844.05,175.87 L845.60,177.20 L847.24,178.72 L848.53,180.00 M855.67,187.40 L856.93,188.65 L858.60,190.20 L860.28,191.62 L861.75,192.74 M869.26,198.31 L870.68,199.56 L872.20,201.10 L873.60,202.82 L874.64,204.33 M879.73,213.05 L880.66,214.54 L882.00,216.40 L883.48,218.24 L884.58,219.52 M892.27,227.60 L893.43,228.72 L895.20,230.40 L897.10,232.10 L898.26,233.06 M908.04,240.84 L909.22,241.88 L911.00,243.60 L912.51,245.24 L913.67,246.64 M919.14,253.98 L920.33,255.57 L921.60,257.20 L922.75,258.59 L923.87,259.92 L924.08,260.16 M928.26,265.01 L928.33,265.09 L929.49,266.49 L930.70,268.00 L932.34,270.13 L933.15,271.22 M942.37,283.96 L943.00,284.81 L944.80,287.20 L946.55,289.53 L947.22,290.45 M956.13,302.05 L957.18,303.19 L959.00,304.90 L960.43,305.98 L961.85,306.84 M967.63,309.59 L967.79,309.67 L969.18,310.50 L970.50,311.50 L971.83,312.78 L973.06,314.21 L973.25,314.46 M977.65,320.66 L978.86,322.24 L980.20,323.80 L981.86,325.52 L983.05,326.68 M991.97,334.71 L993.14,335.74 L995.00,337.40 L996.71,338.98 L997.96,340.16 M1005.52,347.10 L1006.83,348.18 L1008.70,349.60 L1010.88,351.06 L1012.11,351.78 M1024.14,358.35 L1025.32,359.06 L1027.50,360.60 L1029.46,362.20 L1030.59,363.22 M1038.86,371.71 L1039.99,372.89 L1041.70,374.60 L1043.28,376.14 L1044.59,377.44 M1051.05,383.73 L1052.49,385.03 L1054.10,386.40 L1055.72,387.69 L1057.31,388.87 M1064.21,393.64 L1065.81,394.76 L1067.50,396.00 L1069.27,397.37 L1070.68,398.51 M1078.47,404.86 L1079.92,405.99 L1081.70,407.30 L1083.35,408.45 L1084.99,409.55 L1085.04,409.59 M1091.51,413.64 L1091.58,413.68 L1093.27,414.68 L1095.00,415.70 L1096.89,416.77 L1098.54,417.66 M1107.19,422.18 L1108.75,423.04 L1110.70,424.20 L1112.68,425.48 L1114.06,426.45 M1122.97,432.94 L1124.36,433.87 L1126.40,435.10 L1128.51,436.25 L1129.99,436.98 M1140.16,441.46 L1141.78,442.13 L1143.90,443.00 L1145.71,443.73 L1147.48,444.38 L1147.68,444.45 M1154.27,446.82 L1154.39,446.87 L1156.17,447.59 L1158.00,448.40 L1160.29,449.56 L1161.58,450.30 M1173.62,457.41 L1174.83,458.03 L1177.30,459.10 L1179.62,459.87 L1181.18,460.26 M1192.10,462.30 L1193.74,462.69 L1196.00,463.40 L1198.18,464.30 L1199.70,465.05 M1209.12,470.31 L1210.71,471.11 L1212.80,472.00 L1214.72,472.67 L1216.64,473.23 L1216.65,473.24 M1224.26,474.98 L1224.31,474.99 L1226.24,475.42 L1228.20,475.90 L1230.27,476.44 L1232.11,476.94 M1241.08,479.37 L1242.90,479.85 L1245.00,480.40 L1247.09,480.94 L1248.92,481.42 M1257.75,483.63 L1259.64,484.06 L1261.70,484.50 L1263.66,484.89 L1265.61,485.25 L1265.68,485.27 M1273.19,486.50 L1273.34,486.52 L1275.27,486.81 L1277.20,487.10 L1279.12,487.36 L1281.05,487.59 L1281.22,487.61 M1288.60,488.45 L1288.74,488.47 L1290.67,488.76 L1292.60,489.10 L1294.59,489.53 L1296.54,490.02 M1304.77,492.34 L1306.59,492.81 L1308.70,493.30 L1311.21,493.84 L1312.66,494.14 M1324.96,496.39 L1327.10,496.62 L1329.00,496.70 L1329.79,496.67 L1330.49,496.60 L1331.12,496.49 L1331.71,496.36 L1332.27,496.21 L1332.83,496.07 L1332.98,496.03" stroke="#005C00" stroke-width="5.0"/><path d="M402.15,517.00 L402.35,516.98 L403.21,516.93 L404.12,516.88 L405.11,516.84 L406.20,516.80 L408.39,516.76 L410.25,516.75 M424.35,516.82 L425.56,516.82 L428.40,516.80 L431.08,516.75 L432.45,516.71 M445.65,516.28 L447.03,516.24 L449.70,516.20 L452.40,516.19 L453.75,516.20 M467.35,516.39 L468.69,516.40 L471.40,516.40 L474.12,516.41 L475.45,516.44 M489.07,516.38 L490.41,516.29 L493.10,516.00 L495.83,515.57 L497.09,515.32 M510.83,511.70 L512.07,511.32 L514.70,510.50 L517.23,509.72 L518.57,509.32 M530.69,505.03 L532.01,504.42 L534.30,503.20 L536.57,501.81 L537.72,501.03 M548.17,492.29 L549.12,491.35 L551.00,489.40 L552.81,487.39 L553.67,486.35 M561.67,475.14 L562.35,474.07 L563.80,471.70 L565.29,469.13 L565.80,468.18 M572.85,453.75 L573.34,452.72 L574.60,450.10 L575.73,447.82 L576.40,446.47 M581.47,436.11 L582.11,434.68 L583.10,432.40 L584.09,429.94 L584.59,428.63 M589.11,415.80 L589.55,414.57 L590.50,412.00 L591.51,409.39 L591.98,408.23 M597.42,394.87 L597.89,393.71 L598.90,391.10 L599.87,388.53 L600.32,387.31 M604.97,374.32 L605.40,373.08 L606.30,370.50 L607.18,367.94 L607.61,366.67 M611.89,353.83 L612.31,352.57 L613.20,350.00 L614.11,347.36 L614.52,346.17 M619.32,332.67 L619.77,331.48 L620.80,328.90 L621.83,326.45 L622.39,325.17 M627.88,313.37 L628.47,312.13 L629.60,309.70 L630.79,307.14 L631.31,306.03 M637.59,292.62 L638.09,291.49 L639.20,288.90 L640.19,286.41 L640.67,285.13 M645.04,272.94 L645.58,271.55 L646.60,269.20 L647.62,267.05 L648.38,265.56 M653.61,256.23 L654.40,254.84 L655.60,252.70 L656.98,250.18 L657.54,249.15 M665.28,235.11 L665.79,234.20 L667.30,231.60 L668.78,229.13 L669.40,228.14 M677.21,215.77 L677.88,214.68 L679.30,212.30 L680.57,210.05 L681.26,208.76 M686.93,197.98 L687.65,196.70 L689.00,194.50 L690.54,192.15 L691.25,191.13 M700.22,179.11 L700.93,178.19 L702.70,175.90 L704.47,173.63 L705.20,172.71 M714.51,161.20 L715.29,160.21 L717.00,158.00 L718.53,155.84 L719.28,154.65 M725.90,144.42 L727.17,142.98 L728.80,141.60 L730.10,140.85 L731.18,140.45 M737.46,139.27 L738.56,139.01 L740.00,138.50 L741.74,137.62 L743.52,136.52 L743.53,136.51 M750.56,131.66 L750.72,131.56 L752.48,130.59 L754.20,129.90 L755.52,129.54 L756.14,129.42 M762.51,129.13 L763.16,129.17 L764.50,129.30 L766.10,129.50 L767.73,129.79 L768.17,129.88 M774.33,131.58 L774.48,131.63 L776.16,132.24 L777.80,132.90 L779.52,133.70 L781.21,134.61 L781.41,134.73 M787.84,138.79 L787.89,138.82 L789.58,139.89 L791.30,140.90 L793.10,141.92 L794.82,142.90 M802.36,147.02 L804.13,147.91 L806.00,148.80 L807.86,149.57 L809.76,150.24 L809.78,150.25 M817.31,152.74 L817.39,152.77 L819.19,153.60 L820.90,154.60 L822.59,155.87 L824.01,157.18 M830.29,164.29 L831.56,165.68 L833.10,167.20 L834.63,168.53 L836.18,169.79 L836.20,169.81 M842.49,174.61 L844.05,175.87 L845.60,177.20 L847.24,178.72 L848.53,180.00 M855.67,187.40 L856.93,188.65 L858.60,190.20 L860.28,191.62 L861.75,192.74 M869.26,198.31 L870.68,199.56 L872.20,201.10 L873.60,202.82 L874.64,204.33 M879.73,213.05 L880.66,214.54 L882.00,216.40 L883.48,218.24 L884.58,219.52 M892.27,227.60 L893.43,228.72 L895.20,230.40 L897.10,232.10 L898.26,233.06 M908.04,240.84 L909.22,241.88 L911.00,243.60 L912.51,245.24 L913.67,246.64 M919.14,253.98 L920.33,255.57 L921.60,257.20 L922.75,258.59 L923.87,259.92 L924.08,260.16 M928.26,265.01 L928.33,265.09 L929.49,266.49 L930.70,268.00 L932.34,270.13 L933.15,271.22 M942.37,283.96 L943.00,284.81 L944.80,287.20 L946.55,289.53 L947.22,290.45 M956.13,302.05 L957.18,303.19 L959.00,304.90 L960.43,305.98 L961.85,306.84 M967.63,309.59 L967.79,309.67 L969.18,310.50 L970.50,311.50 L971.83,312.78 L973.06,314.21 L973.25,314.46 M977.65,320.66 L978.86,322.24 L980.20,323.80 L981.86,325.52 L983.05,326.68 M991.97,334.71 L993.14,335.74 L995.00,337.40 L996.71,338.98 L997.96,340.16 M1005.52,347.10 L1006.83,348.18 L1008.70,349.60 L1010.88,351.06 L1012.11,351.78 M1024.14,358.35 L1025.32,359.06 L1027.50,360.60 L1029.46,362.20 L1030.59,363.22 M1038.86,371.71 L1039.99,372.89 L1041.70,374.60 L1043.28,376.14 L1044.59,377.44 M1051.05,383.73 L1052.49,385.03 L1054.10,386.40 L1055.72,387.69 L1057.31,388.87 M1064.21,393.64 L1065.81,394.76 L1067.50,396.00 L1069.27,397.37 L1070.68,398.51 M1078.47,404.86 L1079.92,405.99 L1081.70,407.30 L1083.35,408.45 L1084.99,409.55 L1085.04,409.59 M1091.51,413.64 L1091.58,413.68 L1093.27,414.68 L1095.00,415.70 L1096.89,416.77 L1098.54,417.66 M1107.19,422.18 L1108.75,423.04 L1110.70,424.20 L1112.68,425.48 L1114.06,426.45 M1122.97,432.94 L1124.36,433.87 L1126.40,435.10 L1128.51,436.25 L1129.99,436.98 M1140.16,441.46 L1141.78,442.13 L1143.90,443.00 L1145.71,443.73 L1147.48,444.38 L1147.68,444.45 M1154.27,446.82 L1154.39,446.87 L1156.17,447.59 L1158.00,448.40 L1160.29,449.56 L1161.58,450.30 M1173.62,457.41 L1174.83,458.03 L1177.30,459.10 L1179.62,459.87 L1181.18,460.26 M1192.10,462.30 L1193.74,462.69 L1196.00,463.40 L1198.18,464.30 L1199.70,465.05 M1209.12,470.31 L1210.71,471.11 L1212.80,472.00 L1214.72,472.67 L1216.64,473.23 L1216.65,473.24 M1224.26,474.98 L1224.31,474.99 L1226.24,475.42 L1228.20,475.90 L1230.27,476.44 L1232.11,476.94 M1241.08,479.37 L1242.90,479.85 L1245.00,480.40 L1247.09,480.94 L1248.92,481.42 M1257.75,483.63 L1259.64,484.06 L1261.70,484.50 L1263.66,484.89 L1265.61,485.25 L1265.68,485.27 M1273.19,486.50 L1273.34,486.52 L1275.27,486.81 L1277.20,487.10 L1279.12,487.36 L1281.05,487.59 L1281.22,487.61 M1288.60,488.45 L1288.74,488.47 L1290.67,488.76 L1292.60,489.10 L1294.59,489.53 L1296.54,490.02 M1304.77,492.34 L1306.59,492.81 L1308.70,493.30 L1311.21,493.84 L1312.66,494.14 M1324.96,496.39 L1327.10,496.62 L1329.00,496.70 L1329.79,496.67 L1330.49,496.60 L1331.12,496.49 L1331.71,496.36 L1332.27,496.21 L1332.83,496.07 L1332.98,496.03" stroke="#049804" stroke-width="2.6"/>
<path d="M286.95,517.38 L287.43,517.37 L288.06,517.36 L288.71,517.35 L289.41,517.33 L290.16,517.32 L291.00,517.30 L292.70,517.25 L294.64,517.19 L295.05,517.18 M304.45,516.88 L306.15,516.84 L308.50,516.80 L311.13,516.77 L312.55,516.77 M326.45,516.81 L327.73,516.81 L330.50,516.80 L333.25,516.78 L334.55,516.77 M348.45,516.59 L349.75,516.57 L352.50,516.50 L355.26,516.46 L356.55,516.45 M370.38,516.12 L371.78,515.99 L374.40,515.60 L376.80,515.14 L378.37,514.79 M388.98,511.41 L390.49,510.71 L392.60,509.60 L394.74,508.30 L396.02,507.43 M405.45,499.16 L406.43,498.08 L408.10,496.10 L409.70,493.95 L410.45,492.80 M416.96,480.46 L417.51,479.30 L418.70,476.80 L419.89,474.31 L420.43,473.14 M425.94,460.18 L426.41,459.00 L427.40,456.40 L428.38,453.73 L428.78,452.59 M433.32,438.57 L433.68,437.40 L434.50,434.70 L435.27,432.09 L435.63,430.81 M439.17,417.89 L439.54,416.57 L440.30,414.00 L441.09,411.45 L441.51,410.13 M445.65,397.55 L446.07,396.26 L446.90,393.70 L447.74,391.05 L448.12,389.84 M452.38,376.16 L452.75,374.96 L453.60,372.30 L454.44,369.69 L454.85,368.45 M459.14,355.45 L459.55,354.19 L460.40,351.60 L461.24,348.99 L461.64,347.74 M465.88,334.53 L466.30,333.29 L467.20,330.70 L468.12,328.14 L468.58,326.89 M473.50,314.16 L473.98,312.96 L475.00,310.40 L476.08,307.69 L476.49,306.64 M482.35,292.30 L482.82,291.21 L484.00,288.60 L485.11,286.26 L485.75,284.95 M491.31,274.28 L492.02,272.95 L493.20,270.70 L494.44,268.33 L495.09,267.12 M501.48,255.12 L502.09,253.93 L503.30,251.50 L504.48,249.07 L505.05,247.85 M510.64,235.50 L511.18,234.29 L512.30,231.80 L513.46,229.23 L513.96,228.11 M519.95,214.70 L520.44,213.59 L521.60,211.00 L522.75,208.45 L523.27,207.31 M529.09,194.42 L529.61,193.25 L530.70,190.70 L531.75,188.13 L532.21,186.94 M537.26,173.80 L537.77,172.58 L538.90,170.10 L540.06,167.76 L540.72,166.48 M546.93,155.58 L547.70,154.30 L549.00,152.10 L550.25,149.91 L550.99,148.57 M557.01,138.29 L557.95,136.98 L559.50,135.10 L561.12,133.34 L562.28,132.15 M570.91,125.16 L572.37,124.31 L574.50,123.30 L576.84,122.42 L578.33,121.99 M591.06,120.36 L592.54,120.39 L595.10,120.60 L597.59,121.06 L599.04,121.49 M610.82,126.55 L612.15,127.12 L614.60,128.00 L617.02,128.71 L618.50,129.09 M630.21,131.86 L631.67,132.25 L634.10,133.00 L636.63,133.84 L637.94,134.28 M650.57,139.33 L651.73,139.92 L654.10,141.30 L656.53,142.93 L657.42,143.61 M669.35,154.43 L670.08,155.17 L672.20,157.30 L674.22,159.37 L675.01,160.21 M684.74,171.36 L685.50,172.28 L687.30,174.50 L689.07,176.74 L689.80,177.69 M698.49,189.55 L699.21,190.54 L700.90,192.80 L702.54,194.96 L703.36,196.02 M711.55,206.57 L712.37,207.65 L714.00,209.80 L715.65,212.03 L716.40,213.06 M724.78,224.65 L725.52,225.67 L727.20,227.90 L728.86,230.08 L729.66,231.12 M738.21,241.89 L739.03,242.89 L740.80,245.00 L742.65,247.15 L743.46,248.05 M753.42,258.96 L754.23,259.86 L756.10,262.00 L757.91,264.14 L758.71,265.10 M767.62,276.08 L768.45,277.09 L770.20,279.20 L771.90,281.21 L772.82,282.29 M781.15,291.93 L782.09,293.02 L783.80,295.00 L785.53,297.01 L786.44,298.07 M795.07,308.12 L795.97,309.17 L797.70,311.20 L799.42,313.24 L800.31,314.30 M808.83,324.45 L809.72,325.48 L811.50,327.50 L813.36,329.57 L814.21,330.51 M824.07,341.00 L824.93,341.88 L826.90,343.90 L828.89,345.90 L829.76,346.77 M840.20,356.87 L841.06,357.70 L843.10,359.70 L845.20,361.80 L845.96,362.57 M857.07,373.81 L857.88,374.60 L860.00,376.60 L861.97,378.40 L863.00,379.33 M872.64,387.57 L873.80,388.51 L875.80,390.10 L877.73,391.59 L879.02,392.56 M888.17,399.10 L889.42,399.96 L891.50,401.40 L893.93,403.06 L894.85,403.68 M908.61,412.78 L909.48,413.35 L912.00,415.00 L914.28,416.50 L915.39,417.22 M926.40,424.40 L927.58,425.17 L929.80,426.60 L932.03,428.04 L933.20,428.81 M944.23,435.91 L945.42,436.64 L947.70,438.00 L950.02,439.35 L951.21,440.02 M962.99,446.37 L964.21,447.00 L966.60,448.20 L968.96,449.36 L970.24,449.97 M981.98,455.30 L983.26,455.86 L985.70,456.90 L988.23,457.96 L989.44,458.46 M1002.59,463.61 L1003.78,464.05 L1006.40,465.00 L1009.05,465.92 L1010.23,466.32 M1023.94,470.68 L1025.12,471.05 L1027.80,471.90 L1030.48,472.78 L1031.65,473.16 M1045.32,477.65 L1046.57,478.04 L1049.20,478.80 L1051.62,479.46 L1053.11,479.84 M1064.35,482.49 L1065.85,482.83 L1068.30,483.40 L1071.01,484.04 L1072.24,484.34 M1086.65,487.72 L1087.82,487.98 L1090.60,488.60 L1093.29,489.19 L1094.56,489.46 M1108.02,492.23 L1109.32,492.48 L1112.00,493.00 L1114.71,493.51 L1115.98,493.74 M1129.81,496.13 L1131.08,496.34 L1133.80,496.80 L1136.48,497.26 L1137.79,497.48 M1151.20,499.70 L1152.52,499.90 L1155.20,500.30 L1157.88,500.68 L1159.21,500.86 M1172.68,502.55 L1174.01,502.70 L1176.70,503.00 L1179.39,503.28 L1180.73,503.42 M1194.27,504.65 L1195.58,504.76 L1198.30,505.00 L1201.08,505.25 L1202.33,505.36 M1216.66,506.58 L1217.91,506.68 L1220.70,506.90 L1223.43,507.10 L1224.74,507.20 M1238.36,508.12 L1239.68,508.21 L1242.40,508.40 L1245.15,508.60 L1246.44,508.70 M1260.46,509.75 L1261.75,509.83 L1264.50,510.00 L1267.21,510.14 L1268.54,510.21 M1282.05,510.73 L1283.39,510.78 L1286.10,510.90 L1288.85,511.03 L1290.15,511.10 M1304.15,511.82 L1305.45,511.88 L1308.20,512.00 L1310.90,512.10 L1312.25,512.14 M1325.65,512.48 L1327.00,512.52 L1329.70,512.60 L1332.47,512.69 L1333.75,512.73 M1347.75,513.22 L1349.17,513.28 L1351.80,513.40 L1354.15,513.53 L1355.84,513.63 M1364.96,514.22 L1365.74,514.28 L1367.54,514.40 L1369.00,514.50 L1369.49,514.53 L1369.92,514.56 L1370.31,514.59 L1370.65,514.61 L1370.98,514.63 L1371.31,514.65 L1371.64,514.68 L1372.00,514.70" stroke="#E80000" stroke-width="5.0"/><path d="M286.95,517.38 L287.43,517.37 L288.06,517.36 L288.71,517.35 L289.41,517.33 L290.16,517.32 L291.00,517.30 L292.70,517.25 L294.64,517.19 L295.05,517.18 M304.45,516.88 L306.15,516.84 L308.50,516.80 L311.13,516.77 L312.55,516.77 M326.45,516.81 L327.73,516.81 L330.50,516.80 L333.25,516.78 L334.55,516.77 M348.45,516.59 L349.75,516.57 L352.50,516.50 L355.26,516.46 L356.55,516.45 M370.38,516.12 L371.78,515.99 L374.40,515.60 L376.80,515.14 L378.37,514.79 M388.98,511.41 L390.49,510.71 L392.60,509.60 L394.74,508.30 L396.02,507.43 M405.45,499.16 L406.43,498.08 L408.10,496.10 L409.70,493.95 L410.45,492.80 M416.96,480.46 L417.51,479.30 L418.70,476.80 L419.89,474.31 L420.43,473.14 M425.94,460.18 L426.41,459.00 L427.40,456.40 L428.38,453.73 L428.78,452.59 M433.32,438.57 L433.68,437.40 L434.50,434.70 L435.27,432.09 L435.63,430.81 M439.17,417.89 L439.54,416.57 L440.30,414.00 L441.09,411.45 L441.51,410.13 M445.65,397.55 L446.07,396.26 L446.90,393.70 L447.74,391.05 L448.12,389.84 M452.38,376.16 L452.75,374.96 L453.60,372.30 L454.44,369.69 L454.85,368.45 M459.14,355.45 L459.55,354.19 L460.40,351.60 L461.24,348.99 L461.64,347.74 M465.88,334.53 L466.30,333.29 L467.20,330.70 L468.12,328.14 L468.58,326.89 M473.50,314.16 L473.98,312.96 L475.00,310.40 L476.08,307.69 L476.49,306.64 M482.35,292.30 L482.82,291.21 L484.00,288.60 L485.11,286.26 L485.75,284.95 M491.31,274.28 L492.02,272.95 L493.20,270.70 L494.44,268.33 L495.09,267.12 M501.48,255.12 L502.09,253.93 L503.30,251.50 L504.48,249.07 L505.05,247.85 M510.64,235.50 L511.18,234.29 L512.30,231.80 L513.46,229.23 L513.96,228.11 M519.95,214.70 L520.44,213.59 L521.60,211.00 L522.75,208.45 L523.27,207.31 M529.09,194.42 L529.61,193.25 L530.70,190.70 L531.75,188.13 L532.21,186.94 M537.26,173.80 L537.77,172.58 L538.90,170.10 L540.06,167.76 L540.72,166.48 M546.93,155.58 L547.70,154.30 L549.00,152.10 L550.25,149.91 L550.99,148.57 M557.01,138.29 L557.95,136.98 L559.50,135.10 L561.12,133.34 L562.28,132.15 M570.91,125.16 L572.37,124.31 L574.50,123.30 L576.84,122.42 L578.33,121.99 M591.06,120.36 L592.54,120.39 L595.10,120.60 L597.59,121.06 L599.04,121.49 M610.82,126.55 L612.15,127.12 L614.60,128.00 L617.02,128.71 L618.50,129.09 M630.21,131.86 L631.67,132.25 L634.10,133.00 L636.63,133.84 L637.94,134.28 M650.57,139.33 L651.73,139.92 L654.10,141.30 L656.53,142.93 L657.42,143.61 M669.35,154.43 L670.08,155.17 L672.20,157.30 L674.22,159.37 L675.01,160.21 M684.74,171.36 L685.50,172.28 L687.30,174.50 L689.07,176.74 L689.80,177.69 M698.49,189.55 L699.21,190.54 L700.90,192.80 L702.54,194.96 L703.36,196.02 M711.55,206.57 L712.37,207.65 L714.00,209.80 L715.65,212.03 L716.40,213.06 M724.78,224.65 L725.52,225.67 L727.20,227.90 L728.86,230.08 L729.66,231.12 M738.21,241.89 L739.03,242.89 L740.80,245.00 L742.65,247.15 L743.46,248.05 M753.42,258.96 L754.23,259.86 L756.10,262.00 L757.91,264.14 L758.71,265.10 M767.62,276.08 L768.45,277.09 L770.20,279.20 L771.90,281.21 L772.82,282.29 M781.15,291.93 L782.09,293.02 L783.80,295.00 L785.53,297.01 L786.44,298.07 M795.07,308.12 L795.97,309.17 L797.70,311.20 L799.42,313.24 L800.31,314.30 M808.83,324.45 L809.72,325.48 L811.50,327.50 L813.36,329.57 L814.21,330.51 M824.07,341.00 L824.93,341.88 L826.90,343.90 L828.89,345.90 L829.76,346.77 M840.20,356.87 L841.06,357.70 L843.10,359.70 L845.20,361.80 L845.96,362.57 M857.07,373.81 L857.88,374.60 L860.00,376.60 L861.97,378.40 L863.00,379.33 M872.64,387.57 L873.80,388.51 L875.80,390.10 L877.73,391.59 L879.02,392.56 M888.17,399.10 L889.42,399.96 L891.50,401.40 L893.93,403.06 L894.85,403.68 M908.61,412.78 L909.48,413.35 L912.00,415.00 L914.28,416.50 L915.39,417.22 M926.40,424.40 L927.58,425.17 L929.80,426.60 L932.03,428.04 L933.20,428.81 M944.23,435.91 L945.42,436.64 L947.70,438.00 L950.02,439.35 L951.21,440.02 M962.99,446.37 L964.21,447.00 L966.60,448.20 L968.96,449.36 L970.24,449.97 M981.98,455.30 L983.26,455.86 L985.70,456.90 L988.23,457.96 L989.44,458.46 M1002.59,463.61 L1003.78,464.05 L1006.40,465.00 L1009.05,465.92 L1010.23,466.32 M1023.94,470.68 L1025.12,471.05 L1027.80,471.90 L1030.48,472.78 L1031.65,473.16 M1045.32,477.65 L1046.57,478.04 L1049.20,478.80 L1051.62,479.46 L1053.11,479.84 M1064.35,482.49 L1065.85,482.83 L1068.30,483.40 L1071.01,484.04 L1072.24,484.34 M1086.65,487.72 L1087.82,487.98 L1090.60,488.60 L1093.29,489.19 L1094.56,489.46 M1108.02,492.23 L1109.32,492.48 L1112.00,493.00 L1114.71,493.51 L1115.98,493.74 M1129.81,496.13 L1131.08,496.34 L1133.80,496.80 L1136.48,497.26 L1137.79,497.48 M1151.20,499.70 L1152.52,499.90 L1155.20,500.30 L1157.88,500.68 L1159.21,500.86 M1172.68,502.55 L1174.01,502.70 L1176.70,503.00 L1179.39,503.28 L1180.73,503.42 M1194.27,504.65 L1195.58,504.76 L1198.30,505.00 L1201.08,505.25 L1202.33,505.36 M1216.66,506.58 L1217.91,506.68 L1220.70,506.90 L1223.43,507.10 L1224.74,507.20 M1238.36,508.12 L1239.68,508.21 L1242.40,508.40 L1245.15,508.60 L1246.44,508.70 M1260.46,509.75 L1261.75,509.83 L1264.50,510.00 L1267.21,510.14 L1268.54,510.21 M1282.05,510.73 L1283.39,510.78 L1286.10,510.90 L1288.85,511.03 L1290.15,511.10 M1304.15,511.82 L1305.45,511.88 L1308.20,512.00 L1310.90,512.10 L1312.25,512.14 M1325.65,512.48 L1327.00,512.52 L1329.70,512.60 L1332.47,512.69 L1333.75,512.73 M1347.75,513.22 L1349.17,513.28 L1351.80,513.40 L1354.15,513.53 L1355.84,513.63 M1364.96,514.22 L1365.74,514.28 L1367.54,514.40 L1369.00,514.50 L1369.49,514.53 L1369.92,514.56 L1370.31,514.59 L1370.65,514.61 L1370.98,514.63 L1371.31,514.65 L1371.64,514.68 L1372.00,514.70" stroke="#FF0000" stroke-width="2.6"/>
<path d="M294.45,516.97 L295.02,516.94 L296.10,516.89 L297.25,516.84 L298.50,516.80 L300.76,516.74 L302.55,516.71 M316.45,516.55 L317.68,516.53 L320.50,516.50 L323.25,516.46 L324.55,516.45 M338.45,516.27 L339.75,516.25 L342.50,516.20 L345.26,516.15 L346.55,516.13 M360.55,515.85 L361.85,515.81 L364.60,515.70 L367.32,515.60 L368.65,515.56 M382.19,514.85 L383.56,514.70 L386.20,514.30 L388.78,513.83 L390.18,513.55 M402.50,510.13 L403.87,509.59 L406.20,508.50 L408.49,507.26 L409.73,506.51 M420.13,498.46 L421.14,497.51 L423.00,495.60 L424.84,493.52 L425.63,492.52 M433.68,480.31 L434.29,479.25 L435.70,476.80 L437.03,474.41 L437.64,473.25 M443.48,460.91 L444.02,459.69 L445.10,457.20 L446.16,454.71 L446.66,453.46 M451.54,440.78 L452.00,439.56 L453.00,437.00 L454.07,434.33 L454.51,433.24 M460.17,419.19 L460.60,418.08 L461.60,415.40 L462.51,412.87 L462.96,411.58 M467.07,399.16 L467.49,397.83 L468.30,395.30 L469.11,392.73 L469.51,391.43 M473.41,378.47 L473.80,377.20 L474.60,374.60 L475.44,371.94 L475.82,370.74 M480.20,357.07 L480.58,355.87 L481.40,353.20 L482.18,350.58 L482.54,349.31 M486.25,336.18 L486.62,334.90 L487.40,332.30 L488.22,329.70 L488.63,328.44 M492.99,315.37 L493.38,314.15 L494.20,311.50 L495.01,308.69 L495.31,307.60 M499.28,292.49 L499.58,291.41 L500.40,288.60 L501.23,285.95 L501.62,284.74 M506.09,271.73 L506.53,270.48 L507.40,267.90 L508.25,265.33 L508.67,264.05 M512.87,251.23 L513.31,249.94 L514.20,247.40 L515.11,244.88 L515.59,243.59 M520.38,231.15 L520.89,229.90 L521.90,227.40 L522.95,224.86 L523.46,223.66 M529.06,210.80 L529.58,209.63 L530.70,207.10 L531.80,204.58 L532.32,203.39 M537.92,190.74 L538.48,189.56 L539.70,187.10 L540.96,184.65 L541.57,183.51 M548.52,171.32 L549.19,170.24 L550.70,167.90 L552.29,165.54 L552.98,164.56 M561.89,152.78 L562.67,151.79 L564.40,149.60 L565.98,147.55 L566.86,146.38 M574.36,136.98 L575.48,135.83 L577.30,134.20 L579.21,132.71 L580.54,131.77 M590.40,126.29 L592.05,125.63 L594.20,124.90 L596.08,124.37 L597.96,123.92 L598.12,123.89 M605.27,123.19 L605.51,123.19 L607.40,123.32 L609.30,123.60 L611.44,124.14 L613.17,124.77 M623.00,129.97 L624.39,130.79 L626.50,132.00 L628.60,133.17 L630.04,133.97 M639.63,139.82 L640.95,140.73 L642.90,142.20 L644.89,143.82 L646.00,144.80 M655.19,153.88 L656.15,154.88 L658.00,156.80 L659.92,158.78 L660.82,159.71 M670.49,170.21 L671.30,171.15 L673.10,173.30 L674.85,175.51 L675.59,176.49 M683.98,188.25 L684.74,189.30 L686.40,191.50 L687.98,193.50 L688.93,194.66 M696.58,203.83 L697.53,205.00 L699.10,207.00 L700.74,209.18 L701.52,210.25 M709.73,221.82 L710.46,222.84 L712.10,225.10 L713.76,227.34 L714.52,228.34 M723.10,239.63 L723.87,240.66 L725.50,242.90 L727.07,245.12 L727.83,246.21 M735.39,257.37 L736.16,258.50 L737.70,260.70 L739.25,262.88 L740.06,263.99 M747.90,274.64 L748.74,275.77 L750.30,277.90 L751.80,279.96 L752.68,281.18 M759.78,290.95 L760.67,292.16 L762.20,294.20 L763.81,296.29 L764.68,297.40 M772.95,307.78 L773.80,308.87 L775.40,311.00 L776.94,313.13 L777.74,314.30 M785.01,325.03 L785.80,326.15 L787.40,328.30 L789.17,330.56 L789.90,331.48 M799.82,343.16 L800.58,344.04 L802.50,346.20 L804.33,348.24 L805.21,349.21 M814.41,359.06 L815.35,360.04 L817.20,362.00 L819.06,363.97 L819.97,364.95 M829.42,374.85 L830.33,375.76 L832.30,377.70 L834.41,379.71 L835.24,380.49 M846.82,390.87 L847.68,391.61 L849.90,393.50 L852.00,395.26 L853.01,396.09 M863.60,404.51 L864.65,405.33 L866.80,407.00 L869.01,408.72 L869.99,409.49 M881.50,418.25 L882.51,418.98 L884.80,420.60 L887.08,422.15 L888.16,422.86 M899.88,430.23 L900.98,430.92 L903.30,432.40 L905.65,433.94 L906.68,434.63 M918.74,442.60 L919.81,443.28 L922.20,444.70 L924.53,446.01 L925.75,446.66 M937.38,452.48 L938.70,453.14 L941.00,454.30 L943.14,455.41 L944.59,456.18 M954.16,461.23 L955.65,461.97 L957.80,463.00 L960.06,464.04 L961.49,464.68 M972.69,469.32 L974.09,469.84 L976.50,470.70 L979.03,471.52 L980.36,471.92 M993.31,475.39 L994.67,475.76 L997.20,476.50 L999.54,477.25 L1001.05,477.76 M1011.62,481.42 L1013.15,481.91 L1015.50,482.60 L1018.01,483.26 L1019.42,483.60 M1032.24,486.35 L1033.60,486.64 L1036.20,487.20 L1038.78,487.77 L1040.15,488.08 M1052.85,490.89 L1054.21,491.20 L1056.80,491.80 L1059.46,492.44 L1060.73,492.76 M1074.24,496.16 L1075.54,496.46 L1078.20,497.00 L1080.74,497.46 L1082.19,497.69 M1094.38,499.30 L1095.85,499.48 L1098.40,499.80 L1101.02,500.14 L1102.42,500.31 M1115.58,501.92 L1116.93,502.08 L1119.60,502.40 L1122.30,502.73 L1123.62,502.89 M1137.28,504.54 L1138.57,504.69 L1141.30,505.00 L1144.10,505.32 L1145.32,505.46 M1159.77,507.02 L1161.01,507.14 L1163.80,507.40 L1166.51,507.64 L1167.83,507.75 M1181.26,508.75 L1182.61,508.84 L1185.30,509.00 L1188.00,509.14 L1189.35,509.19 M1202.86,509.67 L1204.20,509.74 L1206.90,509.90 L1209.60,510.11 L1210.94,510.24 M1224.46,511.66 L1225.79,511.79 L1228.50,512.00 L1231.23,512.17 L1232.54,512.24 M1246.35,512.78 L1247.66,512.81 L1250.40,512.90 L1253.14,512.98 L1254.45,513.01 M1268.25,513.28 L1269.57,513.31 L1272.30,513.40 L1275.02,513.51 L1276.35,513.58 M1289.95,514.33 L1291.28,514.40 L1294.00,514.50 L1296.73,514.58 L1298.05,514.60 M1311.85,514.75 L1313.16,514.76 L1315.90,514.80 L1318.66,514.85 L1319.95,514.87 M1333.95,515.14 L1335.24,515.16 L1338.00,515.20 L1340.82,515.23 L1342.05,515.24 M1355.75,515.34 L1357.71,515.37 L1359.80,515.40 L1360.76,515.42 L1361.62,515.45 L1362.40,515.47 L1363.14,515.50 L1363.84,515.52 L1363.85,515.52" stroke="#3444E2" stroke-width="5.0"/><path d="M294.45,516.97 L295.02,516.94 L296.10,516.89 L297.25,516.84 L298.50,516.80 L300.76,516.74 L302.55,516.71 M316.45,516.55 L317.68,516.53 L320.50,516.50 L323.25,516.46 L324.55,516.45 M338.45,516.27 L339.75,516.25 L342.50,516.20 L345.26,516.15 L346.55,516.13 M360.55,515.85 L361.85,515.81 L364.60,515.70 L367.32,515.60 L368.65,515.56 M382.19,514.85 L383.56,514.70 L386.20,514.30 L388.78,513.83 L390.18,513.55 M402.50,510.13 L403.87,509.59 L406.20,508.50 L408.49,507.26 L409.73,506.51 M420.13,498.46 L421.14,497.51 L423.00,495.60 L424.84,493.52 L425.63,492.52 M433.68,480.31 L434.29,479.25 L435.70,476.80 L437.03,474.41 L437.64,473.25 M443.48,460.91 L444.02,459.69 L445.10,457.20 L446.16,454.71 L446.66,453.46 M451.54,440.78 L452.00,439.56 L453.00,437.00 L454.07,434.33 L454.51,433.24 M460.17,419.19 L460.60,418.08 L461.60,415.40 L462.51,412.87 L462.96,411.58 M467.07,399.16 L467.49,397.83 L468.30,395.30 L469.11,392.73 L469.51,391.43 M473.41,378.47 L473.80,377.20 L474.60,374.60 L475.44,371.94 L475.82,370.74 M480.20,357.07 L480.58,355.87 L481.40,353.20 L482.18,350.58 L482.54,349.31 M486.25,336.18 L486.62,334.90 L487.40,332.30 L488.22,329.70 L488.63,328.44 M492.99,315.37 L493.38,314.15 L494.20,311.50 L495.01,308.69 L495.31,307.60 M499.28,292.49 L499.58,291.41 L500.40,288.60 L501.23,285.95 L501.62,284.74 M506.09,271.73 L506.53,270.48 L507.40,267.90 L508.25,265.33 L508.67,264.05 M512.87,251.23 L513.31,249.94 L514.20,247.40 L515.11,244.88 L515.59,243.59 M520.38,231.15 L520.89,229.90 L521.90,227.40 L522.95,224.86 L523.46,223.66 M529.06,210.80 L529.58,209.63 L530.70,207.10 L531.80,204.58 L532.32,203.39 M537.92,190.74 L538.48,189.56 L539.70,187.10 L540.96,184.65 L541.57,183.51 M548.52,171.32 L549.19,170.24 L550.70,167.90 L552.29,165.54 L552.98,164.56 M561.89,152.78 L562.67,151.79 L564.40,149.60 L565.98,147.55 L566.86,146.38 M574.36,136.98 L575.48,135.83 L577.30,134.20 L579.21,132.71 L580.54,131.77 M590.40,126.29 L592.05,125.63 L594.20,124.90 L596.08,124.37 L597.96,123.92 L598.12,123.89 M605.27,123.19 L605.51,123.19 L607.40,123.32 L609.30,123.60 L611.44,124.14 L613.17,124.77 M623.00,129.97 L624.39,130.79 L626.50,132.00 L628.60,133.17 L630.04,133.97 M639.63,139.82 L640.95,140.73 L642.90,142.20 L644.89,143.82 L646.00,144.80 M655.19,153.88 L656.15,154.88 L658.00,156.80 L659.92,158.78 L660.82,159.71 M670.49,170.21 L671.30,171.15 L673.10,173.30 L674.85,175.51 L675.59,176.49 M683.98,188.25 L684.74,189.30 L686.40,191.50 L687.98,193.50 L688.93,194.66 M696.58,203.83 L697.53,205.00 L699.10,207.00 L700.74,209.18 L701.52,210.25 M709.73,221.82 L710.46,222.84 L712.10,225.10 L713.76,227.34 L714.52,228.34 M723.10,239.63 L723.87,240.66 L725.50,242.90 L727.07,245.12 L727.83,246.21 M735.39,257.37 L736.16,258.50 L737.70,260.70 L739.25,262.88 L740.06,263.99 M747.90,274.64 L748.74,275.77 L750.30,277.90 L751.80,279.96 L752.68,281.18 M759.78,290.95 L760.67,292.16 L762.20,294.20 L763.81,296.29 L764.68,297.40 M772.95,307.78 L773.80,308.87 L775.40,311.00 L776.94,313.13 L777.74,314.30 M785.01,325.03 L785.80,326.15 L787.40,328.30 L789.17,330.56 L789.90,331.48 M799.82,343.16 L800.58,344.04 L802.50,346.20 L804.33,348.24 L805.21,349.21 M814.41,359.06 L815.35,360.04 L817.20,362.00 L819.06,363.97 L819.97,364.95 M829.42,374.85 L830.33,375.76 L832.30,377.70 L834.41,379.71 L835.24,380.49 M846.82,390.87 L847.68,391.61 L849.90,393.50 L852.00,395.26 L853.01,396.09 M863.60,404.51 L864.65,405.33 L866.80,407.00 L869.01,408.72 L869.99,409.49 M881.50,418.25 L882.51,418.98 L884.80,420.60 L887.08,422.15 L888.16,422.86 M899.88,430.23 L900.98,430.92 L903.30,432.40 L905.65,433.94 L906.68,434.63 M918.74,442.60 L919.81,443.28 L922.20,444.70 L924.53,446.01 L925.75,446.66 M937.38,452.48 L938.70,453.14 L941.00,454.30 L943.14,455.41 L944.59,456.18 M954.16,461.23 L955.65,461.97 L957.80,463.00 L960.06,464.04 L961.49,464.68 M972.69,469.32 L974.09,469.84 L976.50,470.70 L979.03,471.52 L980.36,471.92 M993.31,475.39 L994.67,475.76 L997.20,476.50 L999.54,477.25 L1001.05,477.76 M1011.62,481.42 L1013.15,481.91 L1015.50,482.60 L1018.01,483.26 L1019.42,483.60 M1032.24,486.35 L1033.60,486.64 L1036.20,487.20 L1038.78,487.77 L1040.15,488.08 M1052.85,490.89 L1054.21,491.20 L1056.80,491.80 L1059.46,492.44 L1060.73,492.76 M1074.24,496.16 L1075.54,496.46 L1078.20,497.00 L1080.74,497.46 L1082.19,497.69 M1094.38,499.30 L1095.85,499.48 L1098.40,499.80 L1101.02,500.14 L1102.42,500.31 M1115.58,501.92 L1116.93,502.08 L1119.60,502.40 L1122.30,502.73 L1123.62,502.89 M1137.28,504.54 L1138.57,504.69 L1141.30,505.00 L1144.10,505.32 L1145.32,505.46 M1159.77,507.02 L1161.01,507.14 L1163.80,507.40 L1166.51,507.64 L1167.83,507.75 M1181.26,508.75 L1182.61,508.84 L1185.30,509.00 L1188.00,509.14 L1189.35,509.19 M1202.86,509.67 L1204.20,509.74 L1206.90,509.90 L1209.60,510.11 L1210.94,510.24 M1224.46,511.66 L1225.79,511.79 L1228.50,512.00 L1231.23,512.17 L1232.54,512.24 M1246.35,512.78 L1247.66,512.81 L1250.40,512.90 L1253.14,512.98 L1254.45,513.01 M1268.25,513.28 L1269.57,513.31 L1272.30,513.40 L1275.02,513.51 L1276.35,513.58 M1289.95,514.33 L1291.28,514.40 L1294.00,514.50 L1296.73,514.58 L1298.05,514.60 M1311.85,514.75 L1313.16,514.76 L1315.90,514.80 L1318.66,514.85 L1319.95,514.87 M1333.95,515.14 L1335.24,515.16 L1338.00,515.20 L1340.82,515.23 L1342.05,515.24 M1355.75,515.34 L1357.71,515.37 L1359.80,515.40 L1360.76,515.42 L1361.62,515.45 L1362.40,515.47 L1363.14,515.50 L1363.84,515.52 L1363.85,515.52" stroke="#6274FA" stroke-width="2.6"/>
<path d="M258.46,517.09 L259.03,517.06 L260.10,516.98 L261.25,516.89 L262.50,516.80 L264.72,516.65 L266.54,516.54 M279.99,515.54 L281.27,515.39 L284.00,515.00 L286.65,514.51 L287.97,514.22 M301.08,510.81 L302.38,510.46 L305.00,509.80 L307.63,509.18 L308.94,508.88 M322.09,505.84 L323.42,505.50 L326.00,504.80 L328.52,504.12 L329.92,503.77 M341.90,500.15 L343.32,499.52 L345.50,498.30 L347.59,496.88 L348.79,495.94 M357.53,486.75 L358.39,485.57 L359.80,483.40 L361.11,481.03 L361.67,479.81 M366.14,466.11 L366.46,464.92 L367.20,462.20 L367.92,459.52 L368.22,458.28 M371.10,444.49 L371.33,443.24 L371.80,440.50 L372.25,437.74 L372.43,436.50 M374.20,422.32 L374.35,421.06 L374.70,418.30 L375.05,415.60 L375.23,414.28 M376.99,400.82 L377.16,399.48 L377.50,396.80 L377.83,394.13 L377.99,392.78 M379.53,379.42 L379.69,378.09 L380.00,375.40 L380.32,372.67 L380.47,371.38 M382.12,357.52 L382.27,356.23 L382.60,353.50 L382.93,350.80 L383.09,349.48 M384.75,335.93 L384.90,334.61 L385.20,331.90 L385.48,329.14 L385.59,327.87 M386.81,313.73 L386.93,312.48 L387.20,309.70 L387.49,306.91 L387.63,305.67 M389.30,291.32 L389.45,290.12 L389.80,287.30 L390.18,284.40 L390.34,283.29 M392.52,268.02 L392.67,266.87 L393.00,264.00 L393.28,261.27 L393.40,259.97 M394.41,246.54 L394.51,245.17 L394.70,242.50 L394.89,239.86 L394.98,238.46 M395.83,225.53 L395.95,224.11 L396.20,221.50 L396.50,218.92 L396.69,217.48 M398.55,204.91 L398.75,203.50 L399.10,200.90 L399.42,198.21 L399.57,196.88 M401.02,183.12 L401.17,181.83 L401.50,179.10 L401.86,176.37 L402.03,175.08 M404.05,161.30 L404.25,160.02 L404.70,157.30 L405.09,154.52 L405.23,153.28 M407.29,139.35 L407.75,137.87 L408.80,135.60 L410.01,133.66 L411.05,132.24 M417.84,125.52 L418.43,125.12 L420.10,124.38 L421.60,124.20 L422.85,124.62 L424.02,125.56 L424.80,126.51 M428.42,132.53 L429.38,134.23 L430.50,136.00 L431.89,138.13 L432.68,139.41 M439.70,151.16 L440.51,152.40 L442.00,154.50 L443.26,156.23 L444.36,157.79 M449.38,164.01 L449.61,164.24 L451.09,165.40 L452.70,166.30 L454.54,166.88 L456.54,167.11 L456.65,167.11 M465.56,166.46 L467.53,166.38 L469.60,166.50 L471.48,166.73 L473.35,166.97 L473.62,167.01 M480.22,168.42 L480.58,168.53 L482.27,169.22 L483.90,170.10 L485.69,171.35 L487.11,172.57 M494.17,181.02 L495.10,182.38 L496.40,184.40 L497.60,186.46 L498.36,187.94 M502.64,198.42 L503.20,199.90 L504.10,202.20 L505.06,204.60 L505.59,205.96 M510.14,218.09 L510.61,219.40 L511.50,221.90 L512.38,224.48 L512.79,225.74 M517.01,238.90 L517.46,240.18 L518.40,242.70 L519.37,245.05 L519.98,246.43 M525.11,257.28 L525.73,258.65 L526.70,261.00 L527.62,263.50 L528.06,264.82 M532.13,277.73 L532.58,278.99 L533.60,281.50 L534.74,283.97 L535.34,285.16 M542.09,297.19 L542.74,298.31 L544.10,300.70 L545.44,303.12 L546.05,304.25 M552.93,316.48 L553.60,317.57 L555.10,319.90 L556.70,322.20 L557.44,323.20 M566.34,334.48 L567.13,335.49 L568.80,337.70 L570.34,339.85 L571.14,341.01 M578.40,351.64 L579.21,352.78 L580.80,354.90 L582.52,357.05 L583.36,358.04 M592.74,368.76 L593.55,369.72 L595.30,371.90 L596.98,374.15 L597.70,375.16 M605.80,387.04 L606.53,388.07 L608.20,390.30 L609.86,392.46 L610.67,393.51 M619.30,403.88 L620.27,404.88 L622.20,406.70 L624.20,408.36 L625.37,409.22 M636.04,416.04 L637.32,416.86 L639.40,418.30 L641.26,419.69 L642.62,420.76 M650.45,427.09 L651.84,428.16 L653.70,429.50 L655.71,430.87 L657.07,431.75 M667.10,437.86 L668.46,438.65 L670.60,439.90 L672.73,441.13 L674.11,441.92 M684.22,447.51 L685.61,448.25 L687.80,449.40 L690.04,450.57 L691.39,451.27 M702.37,456.71 L703.73,457.32 L706.10,458.30 L708.57,459.21 L709.92,459.65 M722.58,463.36 L723.92,463.79 L726.40,464.70 L728.80,465.72 L730.10,466.34 M741.37,472.02 L742.75,472.65 L745.10,473.60 L747.36,474.38 L748.95,474.85 M759.48,477.48 L761.07,477.87 L763.40,478.50 L765.90,479.23 L767.28,479.66 M779.89,483.56 L781.23,483.94 L783.80,484.60 L786.36,485.18 L787.76,485.46 M800.41,487.68 L801.82,487.93 L804.40,488.40 L806.99,488.90 L808.37,489.18 M821.12,491.74 L822.52,492.01 L825.10,492.50 L827.66,492.97 L829.08,493.23 M841.50,495.37 L843.01,495.62 L845.50,496.00 L847.79,496.33 L849.51,496.57 M859.38,497.80 L861.14,498.02 L863.40,498.30 L865.74,498.60 L867.42,498.80 M878.38,500.18 L879.97,500.38 L882.40,500.70 L885.01,501.07 L886.41,501.28 M899.68,503.25 L901.08,503.42 L903.70,503.70 L906.15,503.89 L907.74,503.98 M918.96,504.35 L920.59,504.43 L923.00,504.60 L925.45,504.85 L927.03,505.04 M938.58,506.65 L940.15,506.85 L942.60,507.10 L945.04,507.29 L946.64,507.38 M958.16,507.84 L959.72,507.92 L962.20,508.10 L964.80,508.35 L966.23,508.51 M979.17,510.13 L980.64,510.29 L983.20,510.50 L985.52,510.63 L987.25,510.69 M997.35,510.82 L999.04,510.84 L1001.40,510.90 L1004.09,511.00 L1005.45,511.05 M1019.75,511.71 L1021.00,511.77 L1023.80,511.90 L1026.55,512.04 L1027.84,512.11 M1041.65,512.84 L1042.97,512.90 L1045.70,513.00 L1048.43,513.08 L1049.75,513.11 M1063.45,513.31 L1064.77,513.34 L1067.50,513.40 L1070.25,513.48 L1071.55,513.53 M1085.45,514.08 L1086.77,514.12 L1089.50,514.20 L1092.15,514.26 L1093.55,514.28 M1106.45,514.44 L1107.87,514.46 L1110.50,514.50 L1113.18,514.54 L1114.55,514.56 M1127.95,514.80 L1129.31,514.83 L1132.00,514.90 L1134.69,514.98 L1136.05,515.03 M1149.45,515.57 L1150.81,515.62 L1153.50,515.70 L1156.21,515.77 L1157.55,515.80 M1171.15,516.03 L1172.50,516.05 L1175.20,516.10 L1177.87,516.15 L1179.25,516.18 M1192.45,516.45 L1193.84,516.47 L1196.50,516.50 L1199.14,516.52 L1200.55,516.52 M1213.55,516.51 L1214.95,516.50 L1217.60,516.50 L1220.31,516.50 L1221.65,516.50 M1235.35,516.49 L1236.69,516.50 L1239.40,516.50 L1242.04,516.51 L1243.45,516.51 M1256.35,516.58 L1257.77,516.59 L1260.40,516.60 L1263.08,516.61 L1264.45,516.62 M1277.85,516.68 L1279.21,516.69 L1281.90,516.70 L1284.58,516.71 L1285.95,516.72 M1299.35,516.78 L1300.67,516.79 L1303.40,516.80 L1306.27,516.81 L1307.45,516.82 M1322.65,516.88 L1323.81,516.89 L1326.70,516.90 L1329.50,516.91 L1330.75,516.92 M1344.75,516.99 L1346.12,516.99 L1348.80,517.00 L1351.32,517.00 L1352.85,517.00 M1363.95,516.98 L1366.01,516.98 L1368.00,517.00 L1369.17,517.02 L1370.24,517.04 L1371.25,517.06 L1372.05,517.09" stroke="#0E0E0E" stroke-width="5.0"/><path d="M258.46,517.09 L259.03,517.06 L260.10,516.98 L261.25,516.89 L262.50,516.80 L264.72,516.65 L266.54,516.54 M279.99,515.54 L281.27,515.39 L284.00,515.00 L286.65,514.51 L287.97,514.22 M301.08,510.81 L302.38,510.46 L305.00,509.80 L307.63,509.18 L308.94,508.88 M322.09,505.84 L323.42,505.50 L326.00,504.80 L328.52,504.12 L329.92,503.77 M341.90,500.15 L343.32,499.52 L345.50,498.30 L347.59,496.88 L348.79,495.94 M357.53,486.75 L358.39,485.57 L359.80,483.40 L361.11,481.03 L361.67,479.81 M366.14,466.11 L366.46,464.92 L367.20,462.20 L367.92,459.52 L368.22,458.28 M371.10,444.49 L371.33,443.24 L371.80,440.50 L372.25,437.74 L372.43,436.50 M374.20,422.32 L374.35,421.06 L374.70,418.30 L375.05,415.60 L375.23,414.28 M376.99,400.82 L377.16,399.48 L377.50,396.80 L377.83,394.13 L377.99,392.78 M379.53,379.42 L379.69,378.09 L380.00,375.40 L380.32,372.67 L380.47,371.38 M382.12,357.52 L382.27,356.23 L382.60,353.50 L382.93,350.80 L383.09,349.48 M384.75,335.93 L384.90,334.61 L385.20,331.90 L385.48,329.14 L385.59,327.87 M386.81,313.73 L386.93,312.48 L387.20,309.70 L387.49,306.91 L387.63,305.67 M389.30,291.32 L389.45,290.12 L389.80,287.30 L390.18,284.40 L390.34,283.29 M392.52,268.02 L392.67,266.87 L393.00,264.00 L393.28,261.27 L393.40,259.97 M394.41,246.54 L394.51,245.17 L394.70,242.50 L394.89,239.86 L394.98,238.46 M395.83,225.53 L395.95,224.11 L396.20,221.50 L396.50,218.92 L396.69,217.48 M398.55,204.91 L398.75,203.50 L399.10,200.90 L399.42,198.21 L399.57,196.88 M401.02,183.12 L401.17,181.83 L401.50,179.10 L401.86,176.37 L402.03,175.08 M404.05,161.30 L404.25,160.02 L404.70,157.30 L405.09,154.52 L405.23,153.28 M407.29,139.35 L407.75,137.87 L408.80,135.60 L410.01,133.66 L411.05,132.24 M417.84,125.52 L418.43,125.12 L420.10,124.38 L421.60,124.20 L422.85,124.62 L424.02,125.56 L424.80,126.51 M428.42,132.53 L429.38,134.23 L430.50,136.00 L431.89,138.13 L432.68,139.41 M439.70,151.16 L440.51,152.40 L442.00,154.50 L443.26,156.23 L444.36,157.79 M449.38,164.01 L449.61,164.24 L451.09,165.40 L452.70,166.30 L454.54,166.88 L456.54,167.11 L456.65,167.11 M465.56,166.46 L467.53,166.38 L469.60,166.50 L471.48,166.73 L473.35,166.97 L473.62,167.01 M480.22,168.42 L480.58,168.53 L482.27,169.22 L483.90,170.10 L485.69,171.35 L487.11,172.57 M494.17,181.02 L495.10,182.38 L496.40,184.40 L497.60,186.46 L498.36,187.94 M502.64,198.42 L503.20,199.90 L504.10,202.20 L505.06,204.60 L505.59,205.96 M510.14,218.09 L510.61,219.40 L511.50,221.90 L512.38,224.48 L512.79,225.74 M517.01,238.90 L517.46,240.18 L518.40,242.70 L519.37,245.05 L519.98,246.43 M525.11,257.28 L525.73,258.65 L526.70,261.00 L527.62,263.50 L528.06,264.82 M532.13,277.73 L532.58,278.99 L533.60,281.50 L534.74,283.97 L535.34,285.16 M542.09,297.19 L542.74,298.31 L544.10,300.70 L545.44,303.12 L546.05,304.25 M552.93,316.48 L553.60,317.57 L555.10,319.90 L556.70,322.20 L557.44,323.20 M566.34,334.48 L567.13,335.49 L568.80,337.70 L570.34,339.85 L571.14,341.01 M578.40,351.64 L579.21,352.78 L580.80,354.90 L582.52,357.05 L583.36,358.04 M592.74,368.76 L593.55,369.72 L595.30,371.90 L596.98,374.15 L597.70,375.16 M605.80,387.04 L606.53,388.07 L608.20,390.30 L609.86,392.46 L610.67,393.51 M619.30,403.88 L620.27,404.88 L622.20,406.70 L624.20,408.36 L625.37,409.22 M636.04,416.04 L637.32,416.86 L639.40,418.30 L641.26,419.69 L642.62,420.76 M650.45,427.09 L651.84,428.16 L653.70,429.50 L655.71,430.87 L657.07,431.75 M667.10,437.86 L668.46,438.65 L670.60,439.90 L672.73,441.13 L674.11,441.92 M684.22,447.51 L685.61,448.25 L687.80,449.40 L690.04,450.57 L691.39,451.27 M702.37,456.71 L703.73,457.32 L706.10,458.30 L708.57,459.21 L709.92,459.65 M722.58,463.36 L723.92,463.79 L726.40,464.70 L728.80,465.72 L730.10,466.34 M741.37,472.02 L742.75,472.65 L745.10,473.60 L747.36,474.38 L748.95,474.85 M759.48,477.48 L761.07,477.87 L763.40,478.50 L765.90,479.23 L767.28,479.66 M779.89,483.56 L781.23,483.94 L783.80,484.60 L786.36,485.18 L787.76,485.46 M800.41,487.68 L801.82,487.93 L804.40,488.40 L806.99,488.90 L808.37,489.18 M821.12,491.74 L822.52,492.01 L825.10,492.50 L827.66,492.97 L829.08,493.23 M841.50,495.37 L843.01,495.62 L845.50,496.00 L847.79,496.33 L849.51,496.57 M859.38,497.80 L861.14,498.02 L863.40,498.30 L865.74,498.60 L867.42,498.80 M878.38,500.18 L879.97,500.38 L882.40,500.70 L885.01,501.07 L886.41,501.28 M899.68,503.25 L901.08,503.42 L903.70,503.70 L906.15,503.89 L907.74,503.98 M918.96,504.35 L920.59,504.43 L923.00,504.60 L925.45,504.85 L927.03,505.04 M938.58,506.65 L940.15,506.85 L942.60,507.10 L945.04,507.29 L946.64,507.38 M958.16,507.84 L959.72,507.92 L962.20,508.10 L964.80,508.35 L966.23,508.51 M979.17,510.13 L980.64,510.29 L983.20,510.50 L985.52,510.63 L987.25,510.69 M997.35,510.82 L999.04,510.84 L1001.40,510.90 L1004.09,511.00 L1005.45,511.05 M1019.75,511.71 L1021.00,511.77 L1023.80,511.90 L1026.55,512.04 L1027.84,512.11 M1041.65,512.84 L1042.97,512.90 L1045.70,513.00 L1048.43,513.08 L1049.75,513.11 M1063.45,513.31 L1064.77,513.34 L1067.50,513.40 L1070.25,513.48 L1071.55,513.53 M1085.45,514.08 L1086.77,514.12 L1089.50,514.20 L1092.15,514.26 L1093.55,514.28 M1106.45,514.44 L1107.87,514.46 L1110.50,514.50 L1113.18,514.54 L1114.55,514.56 M1127.95,514.80 L1129.31,514.83 L1132.00,514.90 L1134.69,514.98 L1136.05,515.03 M1149.45,515.57 L1150.81,515.62 L1153.50,515.70 L1156.21,515.77 L1157.55,515.80 M1171.15,516.03 L1172.50,516.05 L1175.20,516.10 L1177.87,516.15 L1179.25,516.18 M1192.45,516.45 L1193.84,516.47 L1196.50,516.50 L1199.14,516.52 L1200.55,516.52 M1213.55,516.51 L1214.95,516.50 L1217.60,516.50 L1220.31,516.50 L1221.65,516.50 M1235.35,516.49 L1236.69,516.50 L1239.40,516.50 L1242.04,516.51 L1243.45,516.51 M1256.35,516.58 L1257.77,516.59 L1260.40,516.60 L1263.08,516.61 L1264.45,516.62 M1277.85,516.68 L1279.21,516.69 L1281.90,516.70 L1284.58,516.71 L1285.95,516.72 M1299.35,516.78 L1300.67,516.79 L1303.40,516.80 L1306.27,516.81 L1307.45,516.82 M1322.65,516.88 L1323.81,516.89 L1326.70,516.90 L1329.50,516.91 L1330.75,516.92 M1344.75,516.99 L1346.12,516.99 L1348.80,517.00 L1351.32,517.00 L1352.85,517.00 M1363.95,516.98 L1366.01,516.98 L1368.00,517.00 L1369.17,517.02 L1370.24,517.04 L1371.25,517.06 L1372.05,517.09" stroke="#464646" stroke-width="2.6"/>
<path d="M771.95,516.76 L772.08,516.76 L772.76,516.75 L773.47,516.74 L774.23,516.72 L775.07,516.71 L776.00,516.70 L778.13,516.68 L780.05,516.67 M794.45,516.63 L795.61,516.62 L798.50,516.60 L801.21,516.59 L802.55,516.60 M815.96,516.55 L817.33,516.49 L820.00,516.30 L822.66,516.05 L824.03,515.91 M837.09,513.85 L838.47,513.52 L841.00,512.80 L843.51,512.00 L844.85,511.54 M856.68,506.22 L857.94,505.43 L860.00,503.90 L861.95,502.17 L862.95,501.13 M870.89,490.21 L871.55,489.08 L872.90,486.70 L874.23,484.13 L874.71,483.08 M880.13,468.55 L880.51,467.40 L881.40,464.70 L882.16,462.35 L882.61,460.84 M885.53,450.21 L885.94,448.66 L886.60,446.30 L887.35,443.70 L887.74,442.41 M891.70,428.83 L892.03,427.60 L892.70,424.90 L893.30,422.24 L893.57,420.94 M896.00,407.49 L896.23,406.18 L896.70,403.50 L897.18,400.82 L897.41,399.51 M899.75,386.00 L899.97,384.69 L900.40,382.00 L900.81,379.33 L901.01,378.00 M902.89,364.60 L903.08,363.31 L903.50,360.60 L903.97,357.75 L904.17,356.61 M906.85,341.50 L907.05,340.35 L907.50,337.50 L907.90,334.82 L908.09,333.49 M909.82,320.42 L909.99,319.05 L910.30,316.40 L910.59,313.72 L910.73,312.37 M911.98,298.83 L912.11,297.52 L912.40,294.80 L912.72,292.03 L912.86,290.78 M914.69,276.50 L914.87,275.28 L915.30,272.50 L915.78,269.74 L916.01,268.51 M918.83,254.49 L919.06,253.26 L919.50,250.50 L919.87,247.71 L920.01,246.48 M921.34,232.12 L921.47,230.85 L921.80,228.10 L922.16,225.49 L922.37,224.09 M924.42,211.59 L924.66,210.18 L925.10,207.60 L925.56,204.91 L925.79,203.61 M928.27,189.78 L928.50,188.53 L929.00,185.80 L929.49,183.07 L929.71,181.81 M932.23,168.06 L932.50,166.74 L933.10,164.10 L933.72,161.62 L934.12,160.18 M937.52,148.70 L937.96,147.18 L938.60,144.80 L939.14,142.38 L939.41,140.83 M941.27,130.23 L941.34,129.90 L941.99,127.99 L942.80,126.50 L943.30,125.87 M947.00,123.57 L947.10,123.54 L947.80,123.50 L948.80,123.63 L949.85,123.95 M955.10,127.53 L955.55,127.98 L956.50,129.10 L957.68,131.03 L958.38,132.68 M962.12,146.53 L962.43,147.71 L963.30,150.40 L964.22,152.79 L964.80,154.16 M969.59,165.20 L970.14,166.59 L971.00,169.00 L971.81,171.62 L972.16,172.88 M975.50,186.78 L975.80,188.01 L976.50,190.70 L977.24,193.29 L977.63,194.59 M981.51,207.30 L981.89,208.58 L982.60,211.20 L983.30,214.00 L983.56,215.13 M986.84,230.07 L987.12,231.27 L987.80,234.00 L988.44,236.37 L988.88,237.90 M992.05,248.32 L992.52,249.87 L993.20,252.20 L993.91,254.77 L994.26,256.11 M997.81,269.43 L998.17,270.69 L999.00,273.30 L999.89,275.87 L1000.35,277.12 M1005.42,289.83 L1005.91,291.06 L1006.90,293.60 L1007.87,296.17 L1008.33,297.39 M1013.17,310.41 L1013.63,311.64 L1014.60,314.20 L1015.53,316.74 L1015.97,318.01 M1020.55,330.50 L1021.18,331.86 L1022.40,334.10 L1023.64,336.03 L1024.66,337.46 M1031.16,344.91 L1032.44,346.22 L1034.00,347.80 L1035.52,349.38 L1036.79,350.74 M1043.42,357.04 L1045.11,358.18 L1046.90,359.10 L1048.70,359.69 L1050.61,360.02 L1050.83,360.03 M1058.28,360.17 L1058.60,360.17 L1060.50,360.29 L1062.30,360.60 L1063.77,361.01 L1064.86,361.40 M1070.72,363.98 L1071.79,364.45 L1073.20,365.00 L1074.81,365.56 L1076.46,366.08 L1076.95,366.23 M1083.08,368.08 L1083.30,368.15 L1085.05,368.74 L1086.80,369.40 L1088.81,370.19 L1090.57,370.88 M1099.65,374.98 L1101.19,375.86 L1103.10,377.10 L1104.99,378.53 L1106.27,379.62 M1114.27,387.81 L1115.34,388.98 L1117.00,390.80 L1118.68,392.66 L1119.70,393.82 M1127.38,403.02 L1128.43,404.27 L1130.00,406.10 L1131.39,407.68 L1132.69,409.13 M1138.19,415.19 L1139.50,416.64 L1140.90,418.20 L1142.46,419.99 L1143.54,421.27 M1151.07,430.10 L1152.13,431.23 L1153.90,433.00 L1155.81,434.75 L1156.92,435.69 M1167.13,443.67 L1168.25,444.54 L1170.30,446.20 L1172.32,447.92 L1173.37,448.84 M1183.21,457.51 L1184.33,458.42 L1186.40,460.00 L1188.42,461.44 L1189.71,462.33 M1199.53,468.38 L1200.90,469.14 L1203.10,470.30 L1205.49,471.51 L1206.72,472.11 M1219.27,477.49 L1220.64,477.98 L1223.10,478.80 L1225.24,479.42 L1227.01,479.85 M1235.83,481.51 L1237.79,481.87 L1239.80,482.30 L1241.62,482.72 L1243.40,483.14 L1243.74,483.22 M1250.08,484.79 L1250.36,484.86 L1252.16,485.32 L1254.00,485.80 L1256.16,486.39 L1257.90,486.89 M1268.05,489.81 L1269.83,490.24 L1272.00,490.70 L1273.83,491.00 L1275.61,491.20 L1275.91,491.23 M1282.29,491.69 L1282.55,491.72 L1284.34,491.91 L1286.20,492.20 L1288.48,492.65 L1290.16,493.04 M1301.58,496.08 L1303.08,496.48 L1305.50,497.10 L1307.88,497.69 L1309.43,498.09 M1320.43,500.79 L1322.08,501.15 L1324.40,501.60 L1326.56,501.97 L1328.40,502.25 M1337.38,503.33 L1339.28,503.55 L1341.40,503.80 L1343.52,504.06 L1345.42,504.28 M1354.38,505.32 L1356.21,505.53 L1358.40,505.80 L1360.88,506.13 L1362.41,506.35 M1374.27,508.03 L1376.24,508.24 L1378.30,508.40 L1379.43,508.44 L1380.47,508.45 L1381.45,508.43 L1382.35,508.39" stroke="#C940E6" stroke-width="5.0"/><path d="M771.95,516.76 L772.08,516.76 L772.76,516.75 L773.47,516.74 L774.23,516.72 L775.07,516.71 L776.00,516.70 L778.13,516.68 L780.05,516.67 M794.45,516.63 L795.61,516.62 L798.50,516.60 L801.21,516.59 L802.55,516.60 M815.96,516.55 L817.33,516.49 L820.00,516.30 L822.66,516.05 L824.03,515.91 M837.09,513.85 L838.47,513.52 L841.00,512.80 L843.51,512.00 L844.85,511.54 M856.68,506.22 L857.94,505.43 L860.00,503.90 L861.95,502.17 L862.95,501.13 M870.89,490.21 L871.55,489.08 L872.90,486.70 L874.23,484.13 L874.71,483.08 M880.13,468.55 L880.51,467.40 L881.40,464.70 L882.16,462.35 L882.61,460.84 M885.53,450.21 L885.94,448.66 L886.60,446.30 L887.35,443.70 L887.74,442.41 M891.70,428.83 L892.03,427.60 L892.70,424.90 L893.30,422.24 L893.57,420.94 M896.00,407.49 L896.23,406.18 L896.70,403.50 L897.18,400.82 L897.41,399.51 M899.75,386.00 L899.97,384.69 L900.40,382.00 L900.81,379.33 L901.01,378.00 M902.89,364.60 L903.08,363.31 L903.50,360.60 L903.97,357.75 L904.17,356.61 M906.85,341.50 L907.05,340.35 L907.50,337.50 L907.90,334.82 L908.09,333.49 M909.82,320.42 L909.99,319.05 L910.30,316.40 L910.59,313.72 L910.73,312.37 M911.98,298.83 L912.11,297.52 L912.40,294.80 L912.72,292.03 L912.86,290.78 M914.69,276.50 L914.87,275.28 L915.30,272.50 L915.78,269.74 L916.01,268.51 M918.83,254.49 L919.06,253.26 L919.50,250.50 L919.87,247.71 L920.01,246.48 M921.34,232.12 L921.47,230.85 L921.80,228.10 L922.16,225.49 L922.37,224.09 M924.42,211.59 L924.66,210.18 L925.10,207.60 L925.56,204.91 L925.79,203.61 M928.27,189.78 L928.50,188.53 L929.00,185.80 L929.49,183.07 L929.71,181.81 M932.23,168.06 L932.50,166.74 L933.10,164.10 L933.72,161.62 L934.12,160.18 M937.52,148.70 L937.96,147.18 L938.60,144.80 L939.14,142.38 L939.41,140.83 M941.27,130.23 L941.34,129.90 L941.99,127.99 L942.80,126.50 L943.30,125.87 M947.00,123.57 L947.10,123.54 L947.80,123.50 L948.80,123.63 L949.85,123.95 M955.10,127.53 L955.55,127.98 L956.50,129.10 L957.68,131.03 L958.38,132.68 M962.12,146.53 L962.43,147.71 L963.30,150.40 L964.22,152.79 L964.80,154.16 M969.59,165.20 L970.14,166.59 L971.00,169.00 L971.81,171.62 L972.16,172.88 M975.50,186.78 L975.80,188.01 L976.50,190.70 L977.24,193.29 L977.63,194.59 M981.51,207.30 L981.89,208.58 L982.60,211.20 L983.30,214.00 L983.56,215.13 M986.84,230.07 L987.12,231.27 L987.80,234.00 L988.44,236.37 L988.88,237.90 M992.05,248.32 L992.52,249.87 L993.20,252.20 L993.91,254.77 L994.26,256.11 M997.81,269.43 L998.17,270.69 L999.00,273.30 L999.89,275.87 L1000.35,277.12 M1005.42,289.83 L1005.91,291.06 L1006.90,293.60 L1007.87,296.17 L1008.33,297.39 M1013.17,310.41 L1013.63,311.64 L1014.60,314.20 L1015.53,316.74 L1015.97,318.01 M1020.55,330.50 L1021.18,331.86 L1022.40,334.10 L1023.64,336.03 L1024.66,337.46 M1031.16,344.91 L1032.44,346.22 L1034.00,347.80 L1035.52,349.38 L1036.79,350.74 M1043.42,357.04 L1045.11,358.18 L1046.90,359.10 L1048.70,359.69 L1050.61,360.02 L1050.83,360.03 M1058.28,360.17 L1058.60,360.17 L1060.50,360.29 L1062.30,360.60 L1063.77,361.01 L1064.86,361.40 M1070.72,363.98 L1071.79,364.45 L1073.20,365.00 L1074.81,365.56 L1076.46,366.08 L1076.95,366.23 M1083.08,368.08 L1083.30,368.15 L1085.05,368.74 L1086.80,369.40 L1088.81,370.19 L1090.57,370.88 M1099.65,374.98 L1101.19,375.86 L1103.10,377.10 L1104.99,378.53 L1106.27,379.62 M1114.27,387.81 L1115.34,388.98 L1117.00,390.80 L1118.68,392.66 L1119.70,393.82 M1127.38,403.02 L1128.43,404.27 L1130.00,406.10 L1131.39,407.68 L1132.69,409.13 M1138.19,415.19 L1139.50,416.64 L1140.90,418.20 L1142.46,419.99 L1143.54,421.27 M1151.07,430.10 L1152.13,431.23 L1153.90,433.00 L1155.81,434.75 L1156.92,435.69 M1167.13,443.67 L1168.25,444.54 L1170.30,446.20 L1172.32,447.92 L1173.37,448.84 M1183.21,457.51 L1184.33,458.42 L1186.40,460.00 L1188.42,461.44 L1189.71,462.33 M1199.53,468.38 L1200.90,469.14 L1203.10,470.30 L1205.49,471.51 L1206.72,472.11 M1219.27,477.49 L1220.64,477.98 L1223.10,478.80 L1225.24,479.42 L1227.01,479.85 M1235.83,481.51 L1237.79,481.87 L1239.80,482.30 L1241.62,482.72 L1243.40,483.14 L1243.74,483.22 M1250.08,484.79 L1250.36,484.86 L1252.16,485.32 L1254.00,485.80 L1256.16,486.39 L1257.90,486.89 M1268.05,489.81 L1269.83,490.24 L1272.00,490.70 L1273.83,491.00 L1275.61,491.20 L1275.91,491.23 M1282.29,491.69 L1282.55,491.72 L1284.34,491.91 L1286.20,492.20 L1288.48,492.65 L1290.16,493.04 M1301.58,496.08 L1303.08,496.48 L1305.50,497.10 L1307.88,497.69 L1309.43,498.09 M1320.43,500.79 L1322.08,501.15 L1324.40,501.60 L1326.56,501.97 L1328.40,502.25 M1337.38,503.33 L1339.28,503.55 L1341.40,503.80 L1343.52,504.06 L1345.42,504.28 M1354.38,505.32 L1356.21,505.53 L1358.40,505.80 L1360.88,506.13 L1362.41,506.35 M1374.27,508.03 L1376.24,508.24 L1378.30,508.40 L1379.43,508.44 L1380.47,508.45 L1381.45,508.43 L1382.35,508.39" stroke="#E272F8" stroke-width="2.6"/>
</g>
<g stroke="#000" stroke-width="1.8" fill="none">
<line x1="111" y1="0" x2="111" y2="519.7"/>
<line x1="1387.2" y1="0" x2="1387.2" y2="531.7"/>
<line x1="97" y1="518.8" x2="1400.6" y2="518.8"/>
<line x1="97" y1="120.6" x2="111" y2="120.6"/>
<line x1="1387.2" y1="120.6" x2="1400.6" y2="120.6"/>
<line x1="97" y1="319.7" x2="111" y2="319.7"/>
<line x1="1387.2" y1="319.7" x2="1400.6" y2="319.7"/>
<line x1="405.5" y1="518.8" x2="405.5" y2="531.7"/>
<line x1="732.7" y1="518.8" x2="732.7" y2="531.7"/>
<line x1="1060.0" y1="518.8" x2="1060.0" y2="531.7"/>
<line x1="241.9" y1="518.8" x2="241.9" y2="525.5"/>
<line x1="569.1" y1="518.8" x2="569.1" y2="525.5"/>
<line x1="896.4" y1="518.8" x2="896.4" y2="525.5"/>
<line x1="1223.6" y1="518.8" x2="1223.6" y2="525.5"/>
</g>
<g font-size="30.4">
<path d="M763,0L583,0L583,1147Q518,1085 415,1024Q312,963 222,930L222,1104Q373,1175 486,1276Q599,1377 649,1472L763,1472Z" transform="translate(45.54,130.00) scale(0.01484,-0.01484)" fill="#000"/>
<text transform="translate(62.45,130.00) scale(1,1.075)">.0</text>
<path d="M763,0L583,0L583,1147Q518,1085 415,1024Q312,963 222,930L222,1104Q373,1175 486,1276Q599,1377 649,1472L763,1472Z" transform="translate(1410.00,130.00) scale(0.01484,-0.01484)" fill="#000"/>
<text transform="translate(1426.90,130.00) scale(1,1.075)">.0</text>
<text transform="translate(45.54,329.10) scale(1,1.075)">0.5</text>
<text transform="translate(1410.00,329.10) scale(1,1.075)">0.5</text>
<text transform="translate(45.54,528.20) scale(1,1.075)">0.0</text>
<text transform="translate(1410.00,528.20) scale(1,1.075)">0.0</text>
<text transform="translate(405.2,566) scale(1,1.075)" text-anchor="middle">400</text>
<text transform="translate(732.4,566) scale(1,1.075)" text-anchor="middle">500</text>
<text transform="translate(1059.7,566) scale(1,1.075)" text-anchor="middle">600</text>
<text transform="translate(1386.9,566) scale(1,1.075)" text-anchor="middle">700</text>
</g>
<text x="750" y="613" font-size="33.6" text-anchor="middle">Wavelength (nm)</text>
<text transform="translate(25.7,259.3) rotate(-90)" font-size="33.6" text-anchor="middle">Norm. Absorption (a.u.)</text>
<text transform="translate(1492.3,254.6) rotate(-90)" font-size="33.6" text-anchor="middle">Norm. Emission (a.u.)</text>
<g font-size="27">
<text x="1196.6" y="26.1">Abs:</text>
<text x="1196.2" y="261.0">Em:</text>
</g>
<g stroke="#000" stroke-width="1.8"><line x1="1196.3" y1="29.6" x2="1249.8" y2="29.6"/><line x1="1196.3" y1="263.5" x2="1236.3" y2="263.5"/></g>
<g font-size="27">
<text x="1263.7" y="59.0">tC-2</text>
<text x="1263.7" y="293.4">tC-2</text>
<text x="1263.7" y="95.1">tC<tspan font-size="18" dy="-11">O</tspan><tspan dy="11">-2</tspan></text>
<text x="1263.7" y="330.3">tC<tspan font-size="18" dy="-11">O</tspan><tspan dy="11">-2</tspan></text>
<text x="1263.7" y="128.2">2CNqA-2</text>
<text x="1263.7" y="362.7">2CNqA-2</text>
<text x="1263.7" y="161.0">pA-2</text>
<text x="1263.7" y="395.9">pA-2</text>
<text x="1263.7" y="194.2">Cy3</text>
<text x="1263.7" y="428.9">Cy3</text>
</g>
<g fill="none" stroke-linecap="round">
<line x1="1196.4" y1="49.8" x2="1256.4" y2="49.8" stroke="#005C00" stroke-width="5.0"/><line x1="1196.4" y1="49.8" x2="1256.4" y2="49.8" stroke="#049804" stroke-width="2.6"/>
<line x1="1196.4" y1="284.1" x2="1249" y2="284.1" stroke="#005C00" stroke-width="5.0" stroke-dasharray="8 13.8"/><line x1="1196.4" y1="284.1" x2="1249" y2="284.1" stroke="#049804" stroke-width="2.6" stroke-dasharray="8 13.8"/>
<line x1="1196.4" y1="85.9" x2="1256.4" y2="85.9" stroke="#E24C4C" stroke-width="5.0"/><line x1="1196.4" y1="85.9" x2="1256.4" y2="85.9" stroke="#F86E6E" stroke-width="2.6"/>
<line x1="1196.4" y1="321" x2="1249" y2="321" stroke="#E80000" stroke-width="5.0" stroke-dasharray="8 13.8"/><line x1="1196.4" y1="321" x2="1249" y2="321" stroke="#FF0000" stroke-width="2.6" stroke-dasharray="8 13.8"/>
<line x1="1196.4" y1="119" x2="1256.4" y2="119" stroke="#3444E2" stroke-width="5.0"/><line x1="1196.4" y1="119" x2="1256.4" y2="119" stroke="#6274FA" stroke-width="2.6"/>
<line x1="1196.4" y1="353.4" x2="1249" y2="353.4" stroke="#3444E2" stroke-width="5.0" stroke-dasharray="8 13.8"/><line x1="1196.4" y1="353.4" x2="1249" y2="353.4" stroke="#6274FA" stroke-width="2.6" stroke-dasharray="8 13.8"/>
<line x1="1196.4" y1="151.8" x2="1256.4" y2="151.8" stroke="#0E0E0E" stroke-width="5.0"/><line x1="1196.4" y1="151.8" x2="1256.4" y2="151.8" stroke="#464646" stroke-width="2.6"/>
<line x1="1196.4" y1="386.6" x2="1249" y2="386.6" stroke="#0E0E0E" stroke-width="5.0" stroke-dasharray="8 13.8"/><line x1="1196.4" y1="386.6" x2="1249" y2="386.6" stroke="#464646" stroke-width="2.6" stroke-dasharray="8 13.8"/>
<line x1="1196.4" y1="185" x2="1256.4" y2="185" stroke="#C940E6" stroke-width="5.0"/><line x1="1196.4" y1="185" x2="1256.4" y2="185" stroke="#E272F8" stroke-width="2.6"/>
<line x1="1196.4" y1="419.6" x2="1249" y2="419.6" stroke="#C940E6" stroke-width="5.0" stroke-dasharray="8 13.8"/><line x1="1196.4" y1="419.6" x2="1249" y2="419.6" stroke="#E272F8" stroke-width="2.6" stroke-dasharray="8 13.8"/>
</g>
</svg></body></html>
